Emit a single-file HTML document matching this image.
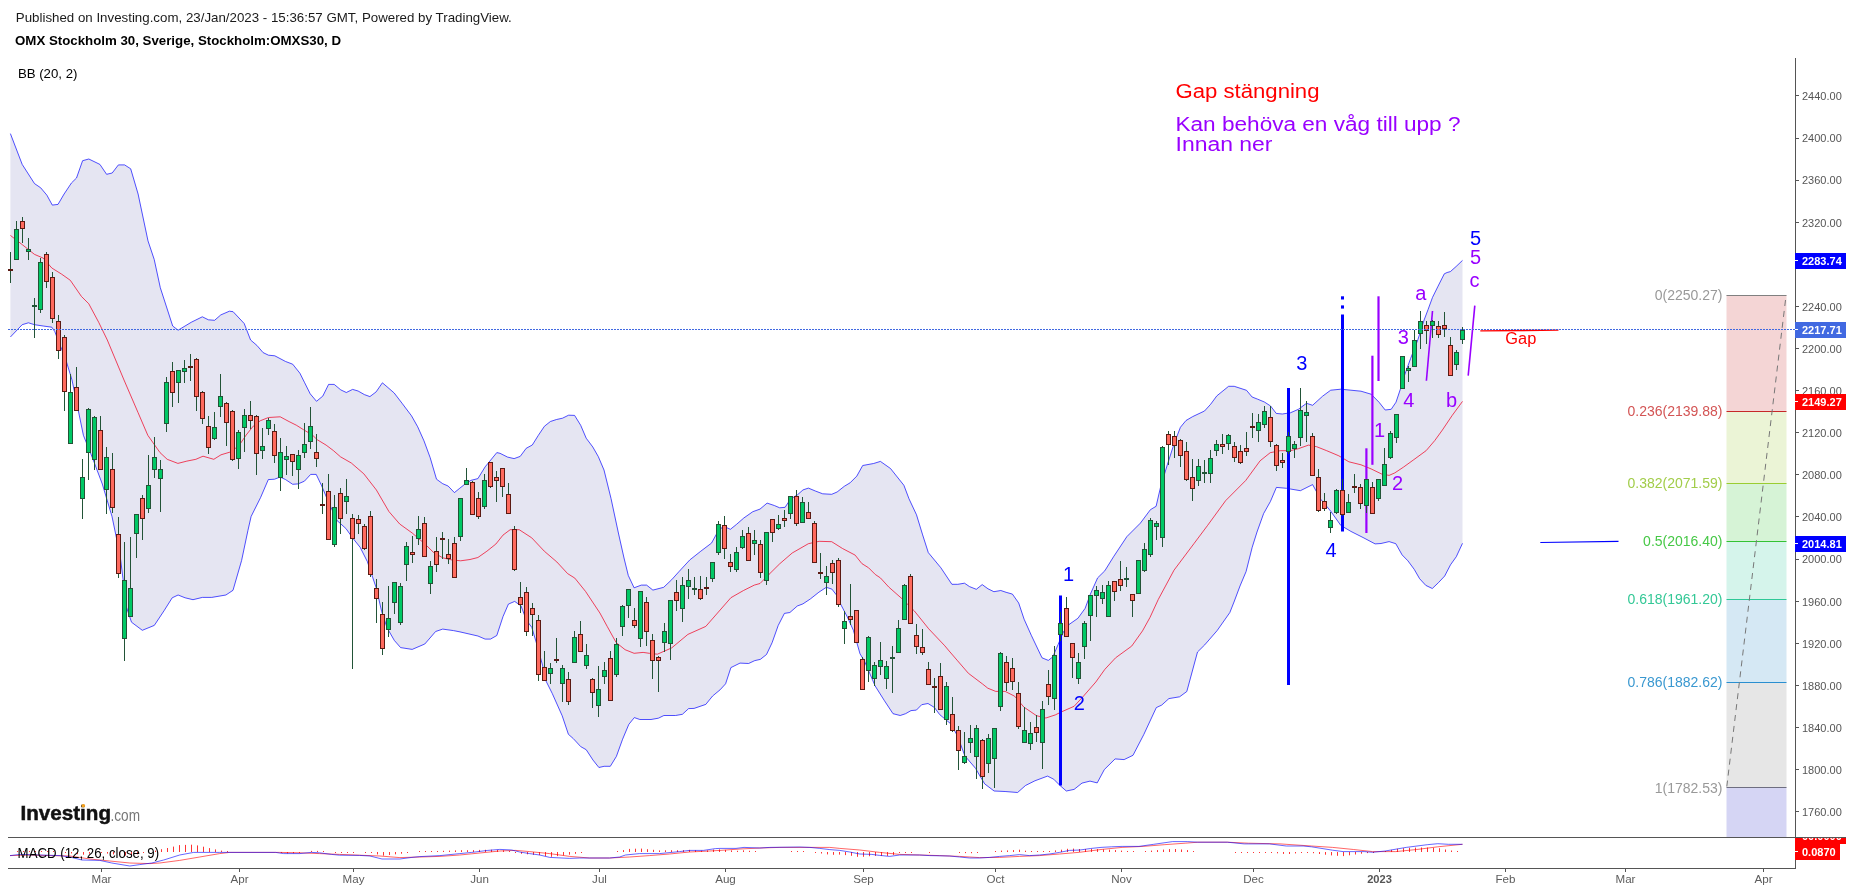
<!DOCTYPE html><html><head><meta charset="utf-8"><style>html,body{margin:0;padding:0;background:#fff;width:1853px;height:892px;overflow:hidden}svg{display:block;position:absolute;left:0;top:0;will-change:transform}text{font-family:"Liberation Sans",sans-serif}</style></head><body>
<svg width="1853" height="892" viewBox="0 0 1853 892">
<text x="15.8" y="22" font-size="13.6" fill="#1a1a1a" textLength="496" lengthAdjust="spacingAndGlyphs">Published on Investing.com, 23/Jan/2023 - 15:36:57 GMT, Powered by TradingView.</text>
<text x="15" y="44.5" font-size="13.6" font-weight="bold" fill="#000" textLength="326" lengthAdjust="spacingAndGlyphs">OMX Stockholm 30, Sverige, Stockholm:OMXS30, D</text>
<text x="17.9" y="77.8" font-size="13.6" fill="#000" textLength="59.5" lengthAdjust="spacingAndGlyphs">BB (20, 2)</text>
<rect x="1726.5" y="295.1" width="60.0" height="116.2" fill="#f4d5d5"/>
<rect x="1726.5" y="411.3" width="60.0" height="71.9" fill="#ebf4d6"/>
<rect x="1726.5" y="483.2" width="60.0" height="58.1" fill="#d6f3d6"/>
<rect x="1726.5" y="541.3" width="60.0" height="58.1" fill="#d5f4eb"/>
<rect x="1726.5" y="599.4" width="60.0" height="82.7" fill="#d5e8f4"/>
<rect x="1726.5" y="682.1" width="60.0" height="105.4" fill="#e6e6e6"/>
<rect x="1726.5" y="787.5" width="60.0" height="49.5" fill="#d5d5f4"/>
<line x1="1726.5" y1="295.5" x2="1786.5" y2="295.5" stroke="#808080" stroke-width="1"/>
<text x="1722.5" y="300.1" font-size="14" fill="#999999" text-anchor="end">0(2250.27)</text>
<line x1="1726.5" y1="411.5" x2="1786.5" y2="411.5" stroke="#c62828" stroke-width="1"/>
<text x="1722.5" y="416.3" font-size="14" fill="#d35454" text-anchor="end">0.236(2139.88)</text>
<line x1="1726.5" y1="483.5" x2="1786.5" y2="483.5" stroke="#9acd32" stroke-width="1"/>
<text x="1722.5" y="488.2" font-size="14" fill="#a2cd4a" text-anchor="end">0.382(2071.59)</text>
<line x1="1726.5" y1="541.5" x2="1786.5" y2="541.5" stroke="#34c234" stroke-width="1"/>
<text x="1722.5" y="546.3" font-size="14" fill="#46c846" text-anchor="end">0.5(2016.40)</text>
<line x1="1726.5" y1="599.5" x2="1786.5" y2="599.5" stroke="#2ec896" stroke-width="1"/>
<text x="1722.5" y="604.4" font-size="14" fill="#33c896" text-anchor="end">0.618(1961.20)</text>
<line x1="1726.5" y1="682.5" x2="1786.5" y2="682.5" stroke="#2a8fd0" stroke-width="1"/>
<text x="1722.5" y="687.1" font-size="14" fill="#3a98d0" text-anchor="end">0.786(1882.62)</text>
<line x1="1726.5" y1="787.5" x2="1786.5" y2="787.5" stroke="#6e6e80" stroke-width="1"/>
<text x="1722.5" y="792.5" font-size="14" fill="#999999" text-anchor="end">1(1782.53)</text>
<line x1="1726.8" y1="786.5" x2="1786" y2="296" stroke="#777" stroke-width="1" stroke-dasharray="6,5"/>
<polygon points="10.4,133.6 22.2,164.4 34.5,183.6 40.7,187.8 46.9,195.2 52.3,205.1 58.0,204.4 64.1,194.0 71.5,182.9 76.5,178.0 82.6,160.7 88.8,159.0 99.9,164.4 106.6,174.3 112.2,173.0 118.4,164.9 124.6,164.9 130.7,168.8 138.1,194.0 148.0,240.9 154.2,259.4 160.3,287.7 172.7,326.0 178.1,330.2 191.2,322.3 202.3,316.8 208.4,319.8 214.6,320.3 220.8,314.9 229.4,311.2 233.1,311.7 244.2,323.5 250.6,340.0 256.9,345.4 263.1,352.6 268.5,355.2 274.8,355.8 285.6,361.5 292.7,364.2 299.9,373.2 304.7,382.8 310.2,393.8 316.5,401.3 322.8,396.1 328.6,384.4 334.2,384.4 340.8,389.9 346.3,392.5 352.6,389.4 358.1,391.0 364.4,394.6 369.9,396.6 376.1,391.9 382.4,382.8 387.9,387.5 394.2,393.0 402.0,403.2 411.5,415.8 417.7,426.8 424.0,440.9 430.2,457.7 436.5,479.2 442.7,483.7 448.1,486.0 454.4,492.6 459.8,488.2 464.3,484.6 470.8,480.4 477.9,478.6 485.1,466.9 496.8,452.6 500.0,453.3 507.6,457.1 514.1,458.6 520.2,456.4 526.2,448.3 532.3,445.0 538.3,435.4 544.4,426.3 550.4,421.5 556.5,419.5 562.5,418.2 568.6,415.2 574.6,415.4 580.7,425.3 586.2,438.2 592.8,447.0 598.3,456.6 604.0,470.0 611.0,498.4 618.4,533.0 624.0,558.0 628.3,575.5 634.1,587.8 641.3,585.1 646.6,585.1 652.9,590.1 663.7,587.3 671.7,579.7 678.9,571.7 689.7,560.0 700.8,551.2 711.5,543.1 716.9,533.3 723.2,526.1 730.4,529.3 736.6,524.3 743.8,518.0 752.8,511.7 760.0,509.1 767.1,503.1 774.3,505.5 779.7,507.8 785.1,507.3 790.4,499.2 797.6,494.7 803.0,489.9 808.4,488.1 815.6,491.1 822.7,493.8 831.7,494.3 837.1,492.0 844.3,486.3 850.1,482.8 856.8,476.1 862.7,465.5 873.6,463.5 880.4,461.4 890.5,468.5 903.9,485.3 909.0,498.8 916.5,514.8 922.4,534.1 928.3,552.6 940.9,567.8 951.9,584.3 957.8,584.3 964.5,583.2 969.5,586.6 976.3,589.3 982.2,584.6 988.0,588.8 993.9,591.7 1000.8,590.5 1006.1,592.3 1012.4,594.1 1018.7,603.0 1024.1,619.2 1031.3,635.3 1042.0,657.8 1048.3,660.4 1052.8,656.9 1058.2,644.3 1063.5,631.7 1068.9,624.6 1077.9,618.3 1085.1,608.4 1090.4,594.1 1097.6,577.9 1104.8,570.8 1113.5,556.8 1126.9,536.6 1140.4,523.1 1150.4,509.7 1156.1,506.3 1160.5,487.3 1167.3,464.8 1173.6,445.2 1177.0,436.2 1180.4,427.3 1186.0,420.5 1192.7,416.6 1204.5,411.0 1210.6,404.3 1216.8,395.9 1228.6,386.3 1234.2,386.3 1246.5,390.3 1252.1,397.0 1257.7,399.2 1264.4,402.0 1270.6,406.0 1276.2,413.4 1282.3,414.0 1290.4,412.8 1298.4,409.3 1306.5,403.3 1312.6,405.3 1322.6,396.2 1330.7,390.2 1340.8,389.2 1350.9,390.2 1361.0,391.2 1371.1,394.2 1379.1,402.3 1385.2,410.0 1391.2,409.3 1396.0,402.2 1400.4,389.1 1404.8,374.5 1410.6,358.5 1417.9,339.6 1424.1,320.0 1428.0,309.7 1432.5,297.4 1438.1,286.1 1444.3,273.8 1447.1,272.5 1450.4,271.6 1456.1,266.5 1462.5,260.4 1462.5,543.3 1456.3,556.7 1450.5,564.8 1444.7,576.0 1438.4,582.7 1432.3,588.5 1425.8,585.4 1419.6,578.7 1414.2,569.3 1407.9,560.8 1402.1,554.9 1395.8,543.7 1389.1,541.6 1381.0,543.5 1375.1,543.9 1363.0,537.5 1350.9,531.4 1340.8,525.4 1330.7,511.2 1320.6,499.1 1312.6,484.6 1300.4,490.7 1290.4,489.0 1286.5,488.3 1276.4,487.4 1270.4,501.5 1263.6,513.6 1257.0,532.0 1252.2,547.3 1246.1,571.5 1240.0,586.0 1234.0,602.0 1229.8,612.6 1217.2,630.5 1204.7,644.9 1197.5,652.0 1186.8,691.5 1179.6,696.8 1168.9,698.6 1161.7,705.1 1156.3,707.6 1143.8,734.5 1133.0,755.3 1124.1,759.6 1115.1,758.9 1104.3,769.6 1097.2,782.9 1090.0,781.1 1082.0,783.1 1074.1,789.4 1066.3,791.0 1060.0,785.5 1053.7,779.2 1047.5,776.1 1034.9,780.8 1025.5,785.5 1017.6,792.5 1005.1,791.5 994.1,791.0 984.7,783.9 980.0,776.1 975.6,768.4 964.8,755.8 957.6,736.1 950.4,723.5 945.1,719.1 939.7,714.6 934.3,707.4 928.0,703.5 921.7,704.7 916.4,710.1 911.0,710.6 905.6,713.7 900.2,715.5 893.0,713.7 884.1,700.2 875.1,685.9 869.7,673.3 864.3,660.8 860.0,653.8 853.4,630.4 847.3,616.9 841.1,605.1 836.2,594.7 831.9,589.1 826.3,587.3 818.9,592.2 810.3,599.0 802.9,603.9 797.3,606.0 789.9,612.5 784.4,613.4 778.2,625.5 772.1,642.7 766.5,654.5 760.3,659.4 754.8,660.6 748.6,663.5 740.0,663.1 730.9,667.6 725.6,683.8 720.0,689.9 712.6,696.0 705.8,704.4 694.1,708.4 688.6,708.6 682.4,714.3 675.6,715.5 663.9,715.5 658.4,718.2 651.0,719.5 639.9,719.5 634.3,717.6 628.8,724.4 622.6,739.2 616.4,756.4 610.3,766.3 604.1,766.3 598.9,767.5 593.0,760.1 586.2,749.7 580.7,746.6 573.3,738.6 568.4,734.3 562.2,715.8 552.3,693.6 545.5,680.0 542.5,665.1 537.1,645.3 531.8,627.4 526.4,620.2 521.0,605.9 514.7,601.4 508.4,604.1 503.0,616.6 496.8,635.5 490.5,639.1 485.1,639.1 477.9,636.0 460.0,631.9 453.5,630.6 442.7,629.1 435.6,631.5 424.8,644.0 412.2,649.4 400.6,647.6 394.3,640.4 387.1,627.9 381.7,611.7 376.4,588.4 372.8,577.8 367.4,561.7 360.2,547.4 353.0,538.4 345.9,528.5 336.9,520.4 327.9,500.7 321.7,485.9 316.2,474.4 310.7,474.4 304.4,481.2 298.1,483.9 292.7,484.3 285.6,479.6 280.1,477.0 274.6,479.2 268.3,479.6 260.5,497.7 251.1,516.5 247.9,530.6 241.6,560.5 233.0,590.3 225.9,595.0 211.8,597.4 202.4,597.4 193.0,599.7 185.1,597.8 178.1,595.0 172.2,597.8 164.0,610.8 154.3,625.4 142.3,630.3 131.5,622.2 126.6,607.6 120.1,555.6 112.0,516.5 102.3,484.0 92.5,458.0 83.4,435.3 72.0,380.0 65.8,359.7 58.0,340.0 54.8,331.6 51.8,327.2 43.2,326.0 34.5,324.7 28.4,322.8 22.2,324.7 10.4,337.0" fill="#e5e5f2"/>
<polyline points="10.4,235.4 22.2,244.6 34.5,254.4 43.2,258.1 51.8,268.0 61.7,274.2 70.3,280.3 81.4,296.4 88.8,303.8 98.7,322.3 107.3,340.0 124.0,380.0 138.0,412.5 147.8,435.3 160.0,452.6 167.2,459.3 177.9,463.4 186.9,461.1 195.9,459.3 203.0,456.2 213.8,459.3 221.0,454.8 230.0,452.1 238.9,445.8 246.1,435.1 253.3,426.1 260.4,420.7 268.5,417.5 280.2,416.8 289.1,421.6 296.3,425.2 303.5,429.7 312.5,435.1 317.2,439.7 326.1,445.1 333.3,450.5 340.5,456.8 351.3,463.0 363.8,473.8 376.4,490.0 388.9,511.5 399.7,524.0 412.2,533.0 424.8,543.8 433.8,552.7 442.7,557.8 451.7,559.9 460.7,560.8 470.0,559.5 477.9,557.5 486.9,551.2 495.9,544.0 503.0,535.1 510.2,529.7 519.2,529.7 531.7,537.8 544.3,551.2 556.9,562.0 567.6,573.6 574.8,578.1 585.6,591.5 599.9,613.0 607.2,626.4 616.1,642.5 625.1,649.7 634.1,653.3 643.1,652.4 649.3,653.3 657.4,654.2 671.7,647.9 687.9,634.4 705.8,626.4 718.4,612.0 730.9,597.7 743.5,590.5 754.3,585.1 760.0,583.5 768.9,574.5 779.7,563.8 792.2,553.0 808.4,543.7 819.1,541.3 831.7,541.7 842.5,548.5 855.1,555.1 861.9,563.6 868.6,567.8 875.3,574.5 880.4,577.9 888.8,587.1 902.2,598.9 914.3,610.9 928.7,628.8 944.8,645.8 948.3,650.0 957.6,660.8 968.4,673.3 982.7,684.1 987.8,688.2 995.7,691.4 1005.1,691.4 1014.5,696.1 1023.9,707.1 1036.5,715.7 1045.9,718.0 1055.3,714.9 1061.6,711.8 1074.1,706.3 1083.5,696.1 1095.8,682.0 1104.8,669.4 1115.6,657.8 1131.7,646.1 1142.5,630.9 1150.0,617.4 1158.3,599.4 1174.0,570.2 1194.2,543.3 1207.6,525.4 1225.6,500.7 1245.7,480.5 1260.1,460.8 1270.2,452.7 1280.3,450.7 1290.4,450.7 1298.4,448.7 1308.5,445.1 1316.6,446.7 1326.7,450.7 1338.8,455.8 1348.9,461.8 1361.0,464.8 1371.1,468.9 1381.4,473.9 1389.1,475.4 1394.8,472.9 1403.4,467.2 1413.9,459.6 1426.2,450.6 1434.8,440.5 1442.4,430.0 1452.0,415.7 1462.5,401.4" fill="none" stroke="#f00020" stroke-opacity="0.72" stroke-width="1"/>
<polyline points="10.4,133.6 22.2,164.4 34.5,183.6 40.7,187.8 46.9,195.2 52.3,205.1 58.0,204.4 64.1,194.0 71.5,182.9 76.5,178.0 82.6,160.7 88.8,159.0 99.9,164.4 106.6,174.3 112.2,173.0 118.4,164.9 124.6,164.9 130.7,168.8 138.1,194.0 148.0,240.9 154.2,259.4 160.3,287.7 172.7,326.0 178.1,330.2 191.2,322.3 202.3,316.8 208.4,319.8 214.6,320.3 220.8,314.9 229.4,311.2 233.1,311.7 244.2,323.5 250.6,340.0 256.9,345.4 263.1,352.6 268.5,355.2 274.8,355.8 285.6,361.5 292.7,364.2 299.9,373.2 304.7,382.8 310.2,393.8 316.5,401.3 322.8,396.1 328.6,384.4 334.2,384.4 340.8,389.9 346.3,392.5 352.6,389.4 358.1,391.0 364.4,394.6 369.9,396.6 376.1,391.9 382.4,382.8 387.9,387.5 394.2,393.0 402.0,403.2 411.5,415.8 417.7,426.8 424.0,440.9 430.2,457.7 436.5,479.2 442.7,483.7 448.1,486.0 454.4,492.6 459.8,488.2 464.3,484.6 470.8,480.4 477.9,478.6 485.1,466.9 496.8,452.6 500.0,453.3 507.6,457.1 514.1,458.6 520.2,456.4 526.2,448.3 532.3,445.0 538.3,435.4 544.4,426.3 550.4,421.5 556.5,419.5 562.5,418.2 568.6,415.2 574.6,415.4 580.7,425.3 586.2,438.2 592.8,447.0 598.3,456.6 604.0,470.0 611.0,498.4 618.4,533.0 624.0,558.0 628.3,575.5 634.1,587.8 641.3,585.1 646.6,585.1 652.9,590.1 663.7,587.3 671.7,579.7 678.9,571.7 689.7,560.0 700.8,551.2 711.5,543.1 716.9,533.3 723.2,526.1 730.4,529.3 736.6,524.3 743.8,518.0 752.8,511.7 760.0,509.1 767.1,503.1 774.3,505.5 779.7,507.8 785.1,507.3 790.4,499.2 797.6,494.7 803.0,489.9 808.4,488.1 815.6,491.1 822.7,493.8 831.7,494.3 837.1,492.0 844.3,486.3 850.1,482.8 856.8,476.1 862.7,465.5 873.6,463.5 880.4,461.4 890.5,468.5 903.9,485.3 909.0,498.8 916.5,514.8 922.4,534.1 928.3,552.6 940.9,567.8 951.9,584.3 957.8,584.3 964.5,583.2 969.5,586.6 976.3,589.3 982.2,584.6 988.0,588.8 993.9,591.7 1000.8,590.5 1006.1,592.3 1012.4,594.1 1018.7,603.0 1024.1,619.2 1031.3,635.3 1042.0,657.8 1048.3,660.4 1052.8,656.9 1058.2,644.3 1063.5,631.7 1068.9,624.6 1077.9,618.3 1085.1,608.4 1090.4,594.1 1097.6,577.9 1104.8,570.8 1113.5,556.8 1126.9,536.6 1140.4,523.1 1150.4,509.7 1156.1,506.3 1160.5,487.3 1167.3,464.8 1173.6,445.2 1177.0,436.2 1180.4,427.3 1186.0,420.5 1192.7,416.6 1204.5,411.0 1210.6,404.3 1216.8,395.9 1228.6,386.3 1234.2,386.3 1246.5,390.3 1252.1,397.0 1257.7,399.2 1264.4,402.0 1270.6,406.0 1276.2,413.4 1282.3,414.0 1290.4,412.8 1298.4,409.3 1306.5,403.3 1312.6,405.3 1322.6,396.2 1330.7,390.2 1340.8,389.2 1350.9,390.2 1361.0,391.2 1371.1,394.2 1379.1,402.3 1385.2,410.0 1391.2,409.3 1396.0,402.2 1400.4,389.1 1404.8,374.5 1410.6,358.5 1417.9,339.6 1424.1,320.0 1428.0,309.7 1432.5,297.4 1438.1,286.1 1444.3,273.8 1447.1,272.5 1450.4,271.6 1456.1,266.5 1462.5,260.4" fill="none" stroke="#0000ff" stroke-opacity="0.68" stroke-width="1"/>
<polyline points="10.4,337.0 22.2,324.7 28.4,322.8 34.5,324.7 43.2,326.0 51.8,327.2 54.8,331.6 58.0,340.0 65.8,359.7 72.0,380.0 83.4,435.3 92.5,458.0 102.3,484.0 112.0,516.5 120.1,555.6 126.6,607.6 131.5,622.2 142.3,630.3 154.3,625.4 164.0,610.8 172.2,597.8 178.1,595.0 185.1,597.8 193.0,599.7 202.4,597.4 211.8,597.4 225.9,595.0 233.0,590.3 241.6,560.5 247.9,530.6 251.1,516.5 260.5,497.7 268.3,479.6 274.6,479.2 280.1,477.0 285.6,479.6 292.7,484.3 298.1,483.9 304.4,481.2 310.7,474.4 316.2,474.4 321.7,485.9 327.9,500.7 336.9,520.4 345.9,528.5 353.0,538.4 360.2,547.4 367.4,561.7 372.8,577.8 376.4,588.4 381.7,611.7 387.1,627.9 394.3,640.4 400.6,647.6 412.2,649.4 424.8,644.0 435.6,631.5 442.7,629.1 453.5,630.6 460.0,631.9 477.9,636.0 485.1,639.1 490.5,639.1 496.8,635.5 503.0,616.6 508.4,604.1 514.7,601.4 521.0,605.9 526.4,620.2 531.8,627.4 537.1,645.3 542.5,665.1 545.5,680.0 552.3,693.6 562.2,715.8 568.4,734.3 573.3,738.6 580.7,746.6 586.2,749.7 593.0,760.1 598.9,767.5 604.1,766.3 610.3,766.3 616.4,756.4 622.6,739.2 628.8,724.4 634.3,717.6 639.9,719.5 651.0,719.5 658.4,718.2 663.9,715.5 675.6,715.5 682.4,714.3 688.6,708.6 694.1,708.4 705.8,704.4 712.6,696.0 720.0,689.9 725.6,683.8 730.9,667.6 740.0,663.1 748.6,663.5 754.8,660.6 760.3,659.4 766.5,654.5 772.1,642.7 778.2,625.5 784.4,613.4 789.9,612.5 797.3,606.0 802.9,603.9 810.3,599.0 818.9,592.2 826.3,587.3 831.9,589.1 836.2,594.7 841.1,605.1 847.3,616.9 853.4,630.4 860.0,653.8 864.3,660.8 869.7,673.3 875.1,685.9 884.1,700.2 893.0,713.7 900.2,715.5 905.6,713.7 911.0,710.6 916.4,710.1 921.7,704.7 928.0,703.5 934.3,707.4 939.7,714.6 945.1,719.1 950.4,723.5 957.6,736.1 964.8,755.8 975.6,768.4 980.0,776.1 984.7,783.9 994.1,791.0 1005.1,791.5 1017.6,792.5 1025.5,785.5 1034.9,780.8 1047.5,776.1 1053.7,779.2 1060.0,785.5 1066.3,791.0 1074.1,789.4 1082.0,783.1 1090.0,781.1 1097.2,782.9 1104.3,769.6 1115.1,758.9 1124.1,759.6 1133.0,755.3 1143.8,734.5 1156.3,707.6 1161.7,705.1 1168.9,698.6 1179.6,696.8 1186.8,691.5 1197.5,652.0 1204.7,644.9 1217.2,630.5 1229.8,612.6 1234.0,602.0 1240.0,586.0 1246.1,571.5 1252.2,547.3 1257.0,532.0 1263.6,513.6 1270.4,501.5 1276.4,487.4 1286.5,488.3 1290.4,489.0 1300.4,490.7 1312.6,484.6 1320.6,499.1 1330.7,511.2 1340.8,525.4 1350.9,531.4 1363.0,537.5 1375.1,543.9 1381.0,543.5 1389.1,541.6 1395.8,543.7 1402.1,554.9 1407.9,560.8 1414.2,569.3 1419.6,578.7 1425.8,585.4 1432.3,588.5 1438.4,582.7 1444.7,576.0 1450.5,564.8 1456.3,556.7 1462.5,543.3" fill="none" stroke="#0000ff" stroke-opacity="0.68" stroke-width="1"/>
<rect x="1059" y="595.5" width="3" height="190" fill="#0000ff"/>
<rect x="1287" y="388" width="3" height="297" fill="#0000ff"/>
<rect x="1341" y="296.3" width="3" height="3.2" fill="#0000ff"/>
<rect x="1341" y="305.4" width="3" height="3.2" fill="#0000ff"/>
<rect x="1341" y="314.5" width="3" height="217" fill="#0000ff"/>
<line x1="1366.4" y1="448.3" x2="1366.4" y2="533" stroke="#9900ff" stroke-width="2.2"/>
<line x1="1372.4" y1="355.7" x2="1372.4" y2="464.8" stroke="#9900ff" stroke-width="2.2"/>
<line x1="1378.5" y1="296.3" x2="1378.5" y2="381" stroke="#9900ff" stroke-width="2.2"/>
<line x1="1432.5" y1="311" x2="1426.4" y2="380.7" stroke="#9900ff" stroke-width="1.6"/>
<line x1="1474.8" y1="305.7" x2="1468.2" y2="375.7" stroke="#9900ff" stroke-width="1.6"/>
<line x1="1480.3" y1="330.9" x2="1558.5" y2="330.2" stroke="#ff0000" stroke-width="1.3"/>
<line x1="1540.3" y1="542.5" x2="1618.5" y2="541.4" stroke="#0000ff" stroke-width="1.2"/>
<rect x="10" y="252" width="1" height="31" fill="#225437"/>
<rect x="8" y="269" width="5" height="2" fill="#5b1a13"/>
<rect x="16" y="221" width="1" height="39" fill="#225437"/>
<rect x="14" y="229" width="5" height="31" fill="#225437"/>
<rect x="15" y="230" width="3" height="29" fill="#00c865"/>
<rect x="22" y="217" width="1" height="26" fill="#225437"/>
<rect x="20" y="221" width="5" height="8" fill="#5b1a13"/>
<rect x="21" y="222" width="3" height="6" fill="#ff6a5e"/>
<rect x="28" y="238" width="1" height="22" fill="#225437"/>
<rect x="26" y="249" width="5" height="3" fill="#225437"/>
<rect x="27" y="250" width="3" height="1" fill="#00c865"/>
<rect x="34" y="298" width="1" height="40" fill="#225437"/>
<rect x="32" y="305" width="5" height="2" fill="#225437"/>
<rect x="40" y="258" width="1" height="55" fill="#225437"/>
<rect x="38" y="262" width="5" height="48" fill="#225437"/>
<rect x="39" y="263" width="3" height="46" fill="#00c865"/>
<rect x="46" y="252" width="1" height="36" fill="#225437"/>
<rect x="44" y="254" width="5" height="28" fill="#5b1a13"/>
<rect x="45" y="255" width="3" height="26" fill="#ff6a5e"/>
<rect x="52" y="272" width="1" height="51" fill="#225437"/>
<rect x="50" y="277" width="5" height="42" fill="#5b1a13"/>
<rect x="51" y="278" width="3" height="40" fill="#ff6a5e"/>
<rect x="58" y="315" width="1" height="44" fill="#225437"/>
<rect x="56" y="321" width="5" height="30" fill="#5b1a13"/>
<rect x="57" y="322" width="3" height="28" fill="#ff6a5e"/>
<rect x="64" y="335" width="1" height="76" fill="#225437"/>
<rect x="62" y="337" width="5" height="55" fill="#5b1a13"/>
<rect x="63" y="338" width="3" height="53" fill="#ff6a5e"/>
<rect x="70" y="374" width="1" height="70" fill="#225437"/>
<rect x="68" y="392" width="5" height="52" fill="#225437"/>
<rect x="69" y="393" width="3" height="50" fill="#00c865"/>
<rect x="76" y="367" width="1" height="44" fill="#225437"/>
<rect x="74" y="387" width="5" height="24" fill="#5b1a13"/>
<rect x="75" y="388" width="3" height="22" fill="#ff6a5e"/>
<rect x="82" y="459" width="1" height="60" fill="#225437"/>
<rect x="80" y="477" width="5" height="22" fill="#225437"/>
<rect x="81" y="478" width="3" height="20" fill="#00c865"/>
<rect x="88" y="408" width="1" height="72" fill="#225437"/>
<rect x="86" y="409" width="5" height="44" fill="#225437"/>
<rect x="87" y="410" width="3" height="42" fill="#00c865"/>
<rect x="94" y="416" width="1" height="54" fill="#225437"/>
<rect x="92" y="417" width="5" height="43" fill="#225437"/>
<rect x="93" y="418" width="3" height="41" fill="#00c865"/>
<rect x="100" y="416" width="1" height="54" fill="#225437"/>
<rect x="98" y="430" width="5" height="40" fill="#5b1a13"/>
<rect x="99" y="431" width="3" height="38" fill="#ff6a5e"/>
<rect x="106" y="447" width="1" height="67" fill="#225437"/>
<rect x="104" y="457" width="5" height="33" fill="#225437"/>
<rect x="105" y="458" width="3" height="31" fill="#00c865"/>
<rect x="112" y="453" width="1" height="60" fill="#225437"/>
<rect x="110" y="469" width="5" height="39" fill="#5b1a13"/>
<rect x="111" y="470" width="3" height="37" fill="#ff6a5e"/>
<rect x="118" y="517" width="1" height="61" fill="#225437"/>
<rect x="116" y="534" width="5" height="40" fill="#5b1a13"/>
<rect x="117" y="535" width="3" height="38" fill="#ff6a5e"/>
<rect x="124" y="542" width="1" height="119" fill="#225437"/>
<rect x="122" y="580" width="5" height="59" fill="#225437"/>
<rect x="123" y="581" width="3" height="57" fill="#00c865"/>
<rect x="130" y="537" width="1" height="80" fill="#225437"/>
<rect x="128" y="588" width="5" height="29" fill="#225437"/>
<rect x="129" y="589" width="3" height="27" fill="#00c865"/>
<rect x="136" y="514" width="1" height="44" fill="#225437"/>
<rect x="134" y="514" width="5" height="20" fill="#225437"/>
<rect x="135" y="515" width="3" height="18" fill="#00c865"/>
<rect x="142" y="495" width="1" height="45" fill="#225437"/>
<rect x="140" y="498" width="5" height="21" fill="#5b1a13"/>
<rect x="141" y="499" width="3" height="19" fill="#ff6a5e"/>
<rect x="148" y="455" width="1" height="58" fill="#225437"/>
<rect x="146" y="485" width="5" height="24" fill="#225437"/>
<rect x="147" y="486" width="3" height="22" fill="#00c865"/>
<rect x="154" y="437" width="1" height="41" fill="#225437"/>
<rect x="152" y="457" width="5" height="13" fill="#225437"/>
<rect x="153" y="458" width="3" height="11" fill="#00c865"/>
<rect x="160" y="460" width="1" height="52" fill="#225437"/>
<rect x="158" y="469" width="5" height="10" fill="#225437"/>
<rect x="159" y="470" width="3" height="8" fill="#00c865"/>
<rect x="166" y="377" width="1" height="55" fill="#225437"/>
<rect x="164" y="382" width="5" height="42" fill="#225437"/>
<rect x="165" y="383" width="3" height="40" fill="#00c865"/>
<rect x="172" y="362" width="1" height="45" fill="#225437"/>
<rect x="170" y="371" width="5" height="22" fill="#5b1a13"/>
<rect x="171" y="372" width="3" height="20" fill="#ff6a5e"/>
<rect x="178" y="370" width="1" height="33" fill="#225437"/>
<rect x="176" y="370" width="5" height="13" fill="#225437"/>
<rect x="177" y="371" width="3" height="11" fill="#00c865"/>
<rect x="184" y="360" width="1" height="23" fill="#225437"/>
<rect x="182" y="368" width="5" height="4" fill="#225437"/>
<rect x="183" y="369" width="3" height="2" fill="#00c865"/>
<rect x="190" y="354" width="1" height="27" fill="#225437"/>
<rect x="188" y="366" width="5" height="2" fill="#5b1a13"/>
<rect x="196" y="358" width="1" height="53" fill="#225437"/>
<rect x="194" y="359" width="5" height="38" fill="#5b1a13"/>
<rect x="195" y="360" width="3" height="36" fill="#ff6a5e"/>
<rect x="202" y="391" width="1" height="33" fill="#225437"/>
<rect x="200" y="392" width="5" height="27" fill="#5b1a13"/>
<rect x="201" y="393" width="3" height="25" fill="#ff6a5e"/>
<rect x="208" y="416" width="1" height="38" fill="#225437"/>
<rect x="206" y="426" width="5" height="22" fill="#5b1a13"/>
<rect x="207" y="427" width="3" height="20" fill="#ff6a5e"/>
<rect x="214" y="412" width="1" height="28" fill="#225437"/>
<rect x="212" y="427" width="5" height="12" fill="#225437"/>
<rect x="213" y="428" width="3" height="10" fill="#00c865"/>
<rect x="220" y="374" width="1" height="43" fill="#225437"/>
<rect x="218" y="396" width="5" height="11" fill="#225437"/>
<rect x="219" y="397" width="3" height="9" fill="#00c865"/>
<rect x="226" y="402" width="1" height="44" fill="#225437"/>
<rect x="224" y="403" width="5" height="20" fill="#5b1a13"/>
<rect x="225" y="404" width="3" height="18" fill="#ff6a5e"/>
<rect x="232" y="410" width="1" height="51" fill="#225437"/>
<rect x="230" y="411" width="5" height="49" fill="#5b1a13"/>
<rect x="231" y="412" width="3" height="47" fill="#ff6a5e"/>
<rect x="238" y="430" width="1" height="39" fill="#225437"/>
<rect x="236" y="432" width="5" height="27" fill="#225437"/>
<rect x="237" y="433" width="3" height="25" fill="#00c865"/>
<rect x="244" y="409" width="1" height="43" fill="#225437"/>
<rect x="242" y="415" width="5" height="13" fill="#225437"/>
<rect x="243" y="416" width="3" height="11" fill="#00c865"/>
<rect x="250" y="401" width="1" height="28" fill="#225437"/>
<rect x="248" y="415" width="5" height="6" fill="#5b1a13"/>
<rect x="249" y="416" width="3" height="4" fill="#ff6a5e"/>
<rect x="256" y="415" width="1" height="60" fill="#225437"/>
<rect x="254" y="416" width="5" height="38" fill="#5b1a13"/>
<rect x="255" y="417" width="3" height="36" fill="#ff6a5e"/>
<rect x="262" y="428" width="1" height="31" fill="#225437"/>
<rect x="260" y="446" width="5" height="5" fill="#225437"/>
<rect x="261" y="447" width="3" height="3" fill="#00c865"/>
<rect x="268" y="418" width="1" height="17" fill="#225437"/>
<rect x="266" y="420" width="5" height="9" fill="#225437"/>
<rect x="267" y="421" width="3" height="7" fill="#00c865"/>
<rect x="274" y="424" width="1" height="39" fill="#225437"/>
<rect x="272" y="431" width="5" height="25" fill="#5b1a13"/>
<rect x="273" y="432" width="3" height="23" fill="#ff6a5e"/>
<rect x="280" y="438" width="1" height="53" fill="#225437"/>
<rect x="278" y="452" width="5" height="26" fill="#225437"/>
<rect x="279" y="453" width="3" height="24" fill="#00c865"/>
<rect x="286" y="446" width="1" height="29" fill="#225437"/>
<rect x="284" y="456" width="5" height="4" fill="#225437"/>
<rect x="285" y="457" width="3" height="2" fill="#00c865"/>
<rect x="292" y="454" width="1" height="22" fill="#225437"/>
<rect x="290" y="454" width="5" height="8" fill="#5b1a13"/>
<rect x="291" y="455" width="3" height="6" fill="#ff6a5e"/>
<rect x="298" y="450" width="1" height="39" fill="#225437"/>
<rect x="296" y="455" width="5" height="15" fill="#225437"/>
<rect x="297" y="456" width="3" height="13" fill="#00c865"/>
<rect x="304" y="423" width="1" height="35" fill="#225437"/>
<rect x="302" y="444" width="5" height="9" fill="#225437"/>
<rect x="303" y="445" width="3" height="7" fill="#00c865"/>
<rect x="310" y="407" width="1" height="42" fill="#225437"/>
<rect x="308" y="426" width="5" height="16" fill="#225437"/>
<rect x="309" y="427" width="3" height="14" fill="#00c865"/>
<rect x="316" y="434" width="1" height="33" fill="#225437"/>
<rect x="314" y="452" width="5" height="7" fill="#5b1a13"/>
<rect x="315" y="453" width="3" height="5" fill="#ff6a5e"/>
<rect x="322" y="483" width="1" height="31" fill="#225437"/>
<rect x="320" y="504" width="5" height="2" fill="#5b1a13"/>
<rect x="328" y="474" width="1" height="66" fill="#225437"/>
<rect x="326" y="491" width="5" height="49" fill="#5b1a13"/>
<rect x="327" y="492" width="3" height="47" fill="#ff6a5e"/>
<rect x="334" y="495" width="1" height="52" fill="#225437"/>
<rect x="332" y="507" width="5" height="38" fill="#225437"/>
<rect x="333" y="508" width="3" height="36" fill="#00c865"/>
<rect x="340" y="488" width="1" height="46" fill="#225437"/>
<rect x="338" y="493" width="5" height="26" fill="#5b1a13"/>
<rect x="339" y="494" width="3" height="24" fill="#ff6a5e"/>
<rect x="346" y="479" width="1" height="35" fill="#225437"/>
<rect x="344" y="496" width="5" height="6" fill="#225437"/>
<rect x="345" y="497" width="3" height="4" fill="#00c865"/>
<rect x="352" y="514" width="1" height="155" fill="#225437"/>
<rect x="350" y="518" width="5" height="21" fill="#5b1a13"/>
<rect x="351" y="519" width="3" height="19" fill="#ff6a5e"/>
<rect x="358" y="515" width="1" height="19" fill="#225437"/>
<rect x="356" y="519" width="5" height="5" fill="#5b1a13"/>
<rect x="357" y="520" width="3" height="3" fill="#ff6a5e"/>
<rect x="364" y="524" width="1" height="26" fill="#225437"/>
<rect x="362" y="526" width="5" height="23" fill="#5b1a13"/>
<rect x="363" y="527" width="3" height="21" fill="#ff6a5e"/>
<rect x="370" y="511" width="1" height="66" fill="#225437"/>
<rect x="368" y="516" width="5" height="59" fill="#5b1a13"/>
<rect x="369" y="517" width="3" height="57" fill="#ff6a5e"/>
<rect x="376" y="579" width="1" height="44" fill="#225437"/>
<rect x="374" y="588" width="5" height="11" fill="#5b1a13"/>
<rect x="375" y="589" width="3" height="9" fill="#ff6a5e"/>
<rect x="382" y="602" width="1" height="53" fill="#225437"/>
<rect x="380" y="614" width="5" height="35" fill="#5b1a13"/>
<rect x="381" y="615" width="3" height="33" fill="#ff6a5e"/>
<rect x="388" y="586" width="1" height="51" fill="#225437"/>
<rect x="386" y="618" width="5" height="12" fill="#225437"/>
<rect x="387" y="619" width="3" height="10" fill="#00c865"/>
<rect x="394" y="582" width="1" height="32" fill="#225437"/>
<rect x="392" y="582" width="5" height="21" fill="#225437"/>
<rect x="393" y="583" width="3" height="19" fill="#00c865"/>
<rect x="400" y="583" width="1" height="42" fill="#225437"/>
<rect x="398" y="586" width="5" height="37" fill="#225437"/>
<rect x="399" y="587" width="3" height="35" fill="#00c865"/>
<rect x="406" y="542" width="1" height="39" fill="#225437"/>
<rect x="404" y="546" width="5" height="19" fill="#225437"/>
<rect x="405" y="547" width="3" height="17" fill="#00c865"/>
<rect x="412" y="536" width="1" height="27" fill="#225437"/>
<rect x="410" y="552" width="5" height="3" fill="#5b1a13"/>
<rect x="411" y="553" width="3" height="1" fill="#ff6a5e"/>
<rect x="418" y="516" width="1" height="29" fill="#225437"/>
<rect x="416" y="529" width="5" height="10" fill="#225437"/>
<rect x="417" y="530" width="3" height="8" fill="#00c865"/>
<rect x="424" y="517" width="1" height="40" fill="#225437"/>
<rect x="422" y="523" width="5" height="34" fill="#5b1a13"/>
<rect x="423" y="524" width="3" height="32" fill="#ff6a5e"/>
<rect x="430" y="561" width="1" height="33" fill="#225437"/>
<rect x="428" y="566" width="5" height="18" fill="#225437"/>
<rect x="429" y="567" width="3" height="16" fill="#00c865"/>
<rect x="436" y="537" width="1" height="35" fill="#225437"/>
<rect x="434" y="551" width="5" height="14" fill="#5b1a13"/>
<rect x="435" y="552" width="3" height="12" fill="#ff6a5e"/>
<rect x="442" y="532" width="1" height="27" fill="#225437"/>
<rect x="440" y="538" width="5" height="2" fill="#5b1a13"/>
<rect x="448" y="539" width="1" height="25" fill="#225437"/>
<rect x="446" y="554" width="5" height="5" fill="#5b1a13"/>
<rect x="447" y="555" width="3" height="3" fill="#ff6a5e"/>
<rect x="454" y="537" width="1" height="41" fill="#225437"/>
<rect x="452" y="543" width="5" height="35" fill="#5b1a13"/>
<rect x="453" y="544" width="3" height="33" fill="#ff6a5e"/>
<rect x="460" y="498" width="1" height="43" fill="#225437"/>
<rect x="458" y="498" width="5" height="39" fill="#225437"/>
<rect x="459" y="499" width="3" height="37" fill="#00c865"/>
<rect x="466" y="468" width="1" height="17" fill="#225437"/>
<rect x="464" y="480" width="5" height="5" fill="#225437"/>
<rect x="465" y="481" width="3" height="3" fill="#00c865"/>
<rect x="472" y="481" width="1" height="34" fill="#225437"/>
<rect x="470" y="482" width="5" height="33" fill="#5b1a13"/>
<rect x="471" y="483" width="3" height="31" fill="#ff6a5e"/>
<rect x="478" y="492" width="1" height="27" fill="#225437"/>
<rect x="476" y="498" width="5" height="19" fill="#5b1a13"/>
<rect x="477" y="499" width="3" height="17" fill="#ff6a5e"/>
<rect x="484" y="474" width="1" height="35" fill="#225437"/>
<rect x="482" y="480" width="5" height="27" fill="#225437"/>
<rect x="483" y="481" width="3" height="25" fill="#00c865"/>
<rect x="490" y="462" width="1" height="26" fill="#225437"/>
<rect x="488" y="462" width="5" height="25" fill="#5b1a13"/>
<rect x="489" y="463" width="3" height="23" fill="#ff6a5e"/>
<rect x="496" y="471" width="1" height="31" fill="#225437"/>
<rect x="494" y="477" width="5" height="4" fill="#5b1a13"/>
<rect x="495" y="478" width="3" height="2" fill="#ff6a5e"/>
<rect x="502" y="468" width="1" height="29" fill="#225437"/>
<rect x="500" y="468" width="5" height="19" fill="#5b1a13"/>
<rect x="501" y="469" width="3" height="17" fill="#ff6a5e"/>
<rect x="508" y="483" width="1" height="31" fill="#225437"/>
<rect x="506" y="494" width="5" height="20" fill="#5b1a13"/>
<rect x="507" y="495" width="3" height="18" fill="#ff6a5e"/>
<rect x="514" y="526" width="1" height="45" fill="#225437"/>
<rect x="512" y="529" width="5" height="41" fill="#5b1a13"/>
<rect x="513" y="530" width="3" height="39" fill="#ff6a5e"/>
<rect x="520" y="582" width="1" height="31" fill="#225437"/>
<rect x="518" y="597" width="5" height="8" fill="#5b1a13"/>
<rect x="519" y="598" width="3" height="6" fill="#ff6a5e"/>
<rect x="526" y="587" width="1" height="49" fill="#225437"/>
<rect x="524" y="592" width="5" height="40" fill="#5b1a13"/>
<rect x="525" y="593" width="3" height="38" fill="#ff6a5e"/>
<rect x="532" y="603" width="1" height="33" fill="#225437"/>
<rect x="530" y="608" width="5" height="7" fill="#5b1a13"/>
<rect x="531" y="609" width="3" height="5" fill="#ff6a5e"/>
<rect x="538" y="615" width="1" height="66" fill="#225437"/>
<rect x="536" y="620" width="5" height="55" fill="#5b1a13"/>
<rect x="537" y="621" width="3" height="53" fill="#ff6a5e"/>
<rect x="544" y="651" width="1" height="30" fill="#225437"/>
<rect x="542" y="667" width="5" height="14" fill="#5b1a13"/>
<rect x="543" y="668" width="3" height="12" fill="#ff6a5e"/>
<rect x="550" y="663" width="1" height="21" fill="#225437"/>
<rect x="548" y="668" width="5" height="6" fill="#225437"/>
<rect x="549" y="669" width="3" height="4" fill="#00c865"/>
<rect x="556" y="638" width="1" height="25" fill="#225437"/>
<rect x="554" y="659" width="5" height="2" fill="#5b1a13"/>
<rect x="562" y="665" width="1" height="37" fill="#225437"/>
<rect x="560" y="668" width="5" height="16" fill="#225437"/>
<rect x="561" y="669" width="3" height="14" fill="#00c865"/>
<rect x="568" y="672" width="1" height="33" fill="#225437"/>
<rect x="566" y="679" width="5" height="23" fill="#5b1a13"/>
<rect x="567" y="680" width="3" height="21" fill="#ff6a5e"/>
<rect x="574" y="631" width="1" height="32" fill="#225437"/>
<rect x="572" y="637" width="5" height="26" fill="#225437"/>
<rect x="573" y="638" width="3" height="24" fill="#00c865"/>
<rect x="580" y="621" width="1" height="31" fill="#225437"/>
<rect x="578" y="634" width="5" height="18" fill="#5b1a13"/>
<rect x="579" y="635" width="3" height="16" fill="#ff6a5e"/>
<rect x="586" y="644" width="1" height="25" fill="#225437"/>
<rect x="584" y="655" width="5" height="11" fill="#225437"/>
<rect x="585" y="656" width="3" height="9" fill="#00c865"/>
<rect x="592" y="678" width="1" height="30" fill="#225437"/>
<rect x="590" y="679" width="5" height="14" fill="#5b1a13"/>
<rect x="591" y="680" width="3" height="12" fill="#ff6a5e"/>
<rect x="598" y="666" width="1" height="51" fill="#225437"/>
<rect x="596" y="689" width="5" height="17" fill="#225437"/>
<rect x="597" y="690" width="3" height="15" fill="#00c865"/>
<rect x="604" y="662" width="1" height="22" fill="#225437"/>
<rect x="602" y="670" width="5" height="7" fill="#225437"/>
<rect x="603" y="671" width="3" height="5" fill="#00c865"/>
<rect x="610" y="651" width="1" height="50" fill="#225437"/>
<rect x="608" y="658" width="5" height="43" fill="#5b1a13"/>
<rect x="609" y="659" width="3" height="41" fill="#ff6a5e"/>
<rect x="616" y="638" width="1" height="39" fill="#225437"/>
<rect x="614" y="644" width="5" height="31" fill="#225437"/>
<rect x="615" y="645" width="3" height="29" fill="#00c865"/>
<rect x="622" y="605" width="1" height="31" fill="#225437"/>
<rect x="620" y="606" width="5" height="21" fill="#225437"/>
<rect x="621" y="607" width="3" height="19" fill="#00c865"/>
<rect x="628" y="589" width="1" height="29" fill="#225437"/>
<rect x="626" y="589" width="5" height="17" fill="#225437"/>
<rect x="627" y="590" width="3" height="15" fill="#00c865"/>
<rect x="634" y="608" width="1" height="20" fill="#225437"/>
<rect x="632" y="620" width="5" height="6" fill="#5b1a13"/>
<rect x="633" y="621" width="3" height="4" fill="#ff6a5e"/>
<rect x="640" y="591" width="1" height="56" fill="#225437"/>
<rect x="638" y="591" width="5" height="48" fill="#225437"/>
<rect x="639" y="592" width="3" height="46" fill="#00c865"/>
<rect x="646" y="597" width="1" height="49" fill="#225437"/>
<rect x="644" y="602" width="5" height="30" fill="#5b1a13"/>
<rect x="645" y="603" width="3" height="28" fill="#ff6a5e"/>
<rect x="652" y="634" width="1" height="45" fill="#225437"/>
<rect x="650" y="640" width="5" height="21" fill="#5b1a13"/>
<rect x="651" y="641" width="3" height="19" fill="#ff6a5e"/>
<rect x="658" y="656" width="1" height="36" fill="#225437"/>
<rect x="656" y="657" width="5" height="4" fill="#5b1a13"/>
<rect x="657" y="658" width="3" height="2" fill="#ff6a5e"/>
<rect x="664" y="623" width="1" height="29" fill="#225437"/>
<rect x="662" y="631" width="5" height="12" fill="#225437"/>
<rect x="663" y="632" width="3" height="10" fill="#00c865"/>
<rect x="670" y="600" width="1" height="60" fill="#225437"/>
<rect x="668" y="600" width="5" height="44" fill="#225437"/>
<rect x="669" y="601" width="3" height="42" fill="#00c865"/>
<rect x="676" y="580" width="1" height="31" fill="#225437"/>
<rect x="674" y="592" width="5" height="9" fill="#5b1a13"/>
<rect x="675" y="593" width="3" height="7" fill="#ff6a5e"/>
<rect x="682" y="577" width="1" height="45" fill="#225437"/>
<rect x="680" y="585" width="5" height="24" fill="#225437"/>
<rect x="681" y="586" width="3" height="22" fill="#00c865"/>
<rect x="688" y="569" width="1" height="30" fill="#225437"/>
<rect x="686" y="580" width="5" height="7" fill="#225437"/>
<rect x="687" y="581" width="3" height="5" fill="#00c865"/>
<rect x="694" y="577" width="1" height="18" fill="#225437"/>
<rect x="692" y="588" width="5" height="2" fill="#225437"/>
<rect x="700" y="576" width="1" height="24" fill="#225437"/>
<rect x="698" y="589" width="5" height="10" fill="#5b1a13"/>
<rect x="699" y="590" width="3" height="8" fill="#ff6a5e"/>
<rect x="706" y="577" width="1" height="18" fill="#225437"/>
<rect x="704" y="587" width="5" height="2" fill="#5b1a13"/>
<rect x="712" y="562" width="1" height="20" fill="#225437"/>
<rect x="710" y="562" width="5" height="17" fill="#225437"/>
<rect x="711" y="563" width="3" height="15" fill="#00c865"/>
<rect x="718" y="521" width="1" height="34" fill="#225437"/>
<rect x="716" y="524" width="5" height="29" fill="#225437"/>
<rect x="717" y="525" width="3" height="27" fill="#00c865"/>
<rect x="724" y="516" width="1" height="43" fill="#225437"/>
<rect x="722" y="525" width="5" height="24" fill="#5b1a13"/>
<rect x="723" y="526" width="3" height="22" fill="#ff6a5e"/>
<rect x="730" y="554" width="1" height="18" fill="#225437"/>
<rect x="728" y="562" width="5" height="5" fill="#5b1a13"/>
<rect x="729" y="563" width="3" height="3" fill="#ff6a5e"/>
<rect x="736" y="547" width="1" height="25" fill="#225437"/>
<rect x="734" y="552" width="5" height="18" fill="#225437"/>
<rect x="735" y="553" width="3" height="16" fill="#00c865"/>
<rect x="742" y="530" width="1" height="19" fill="#225437"/>
<rect x="740" y="536" width="5" height="12" fill="#225437"/>
<rect x="741" y="537" width="3" height="10" fill="#00c865"/>
<rect x="748" y="527" width="1" height="34" fill="#225437"/>
<rect x="746" y="533" width="5" height="28" fill="#5b1a13"/>
<rect x="747" y="534" width="3" height="26" fill="#ff6a5e"/>
<rect x="754" y="530" width="1" height="25" fill="#225437"/>
<rect x="752" y="540" width="5" height="4" fill="#225437"/>
<rect x="753" y="541" width="3" height="2" fill="#00c865"/>
<rect x="760" y="540" width="1" height="38" fill="#225437"/>
<rect x="758" y="544" width="5" height="29" fill="#5b1a13"/>
<rect x="759" y="545" width="3" height="27" fill="#ff6a5e"/>
<rect x="766" y="532" width="1" height="53" fill="#225437"/>
<rect x="764" y="532" width="5" height="49" fill="#225437"/>
<rect x="765" y="533" width="3" height="47" fill="#00c865"/>
<rect x="772" y="519" width="1" height="23" fill="#225437"/>
<rect x="770" y="519" width="5" height="14" fill="#5b1a13"/>
<rect x="771" y="520" width="3" height="12" fill="#ff6a5e"/>
<rect x="778" y="515" width="1" height="15" fill="#225437"/>
<rect x="776" y="524" width="5" height="5" fill="#225437"/>
<rect x="777" y="525" width="3" height="3" fill="#00c865"/>
<rect x="784" y="510" width="1" height="17" fill="#225437"/>
<rect x="782" y="518" width="5" height="3" fill="#5b1a13"/>
<rect x="783" y="519" width="3" height="1" fill="#ff6a5e"/>
<rect x="790" y="496" width="1" height="23" fill="#225437"/>
<rect x="788" y="496" width="5" height="18" fill="#225437"/>
<rect x="789" y="497" width="3" height="16" fill="#00c865"/>
<rect x="796" y="490" width="1" height="36" fill="#225437"/>
<rect x="794" y="496" width="5" height="28" fill="#5b1a13"/>
<rect x="795" y="497" width="3" height="26" fill="#ff6a5e"/>
<rect x="802" y="497" width="1" height="26" fill="#225437"/>
<rect x="800" y="502" width="5" height="21" fill="#225437"/>
<rect x="801" y="503" width="3" height="19" fill="#00c865"/>
<rect x="808" y="502" width="1" height="17" fill="#225437"/>
<rect x="806" y="512" width="5" height="7" fill="#5b1a13"/>
<rect x="807" y="513" width="3" height="5" fill="#ff6a5e"/>
<rect x="814" y="521" width="1" height="42" fill="#225437"/>
<rect x="812" y="523" width="5" height="40" fill="#5b1a13"/>
<rect x="813" y="524" width="3" height="38" fill="#ff6a5e"/>
<rect x="820" y="553" width="1" height="26" fill="#225437"/>
<rect x="818" y="572" width="5" height="2" fill="#5b1a13"/>
<rect x="826" y="566" width="1" height="29" fill="#225437"/>
<rect x="824" y="576" width="5" height="7" fill="#225437"/>
<rect x="825" y="577" width="3" height="5" fill="#00c865"/>
<rect x="832" y="560" width="1" height="24" fill="#225437"/>
<rect x="830" y="563" width="5" height="10" fill="#5b1a13"/>
<rect x="831" y="564" width="3" height="8" fill="#ff6a5e"/>
<rect x="838" y="558" width="1" height="49" fill="#225437"/>
<rect x="836" y="560" width="5" height="45" fill="#5b1a13"/>
<rect x="837" y="561" width="3" height="43" fill="#ff6a5e"/>
<rect x="844" y="611" width="1" height="33" fill="#225437"/>
<rect x="842" y="621" width="5" height="8" fill="#225437"/>
<rect x="843" y="622" width="3" height="6" fill="#00c865"/>
<rect x="850" y="584" width="1" height="41" fill="#225437"/>
<rect x="848" y="616" width="5" height="4" fill="#5b1a13"/>
<rect x="849" y="617" width="3" height="2" fill="#ff6a5e"/>
<rect x="856" y="610" width="1" height="33" fill="#225437"/>
<rect x="854" y="610" width="5" height="33" fill="#5b1a13"/>
<rect x="855" y="611" width="3" height="31" fill="#ff6a5e"/>
<rect x="862" y="657" width="1" height="33" fill="#225437"/>
<rect x="860" y="659" width="5" height="31" fill="#5b1a13"/>
<rect x="861" y="660" width="3" height="29" fill="#ff6a5e"/>
<rect x="868" y="636" width="1" height="46" fill="#225437"/>
<rect x="866" y="637" width="5" height="34" fill="#225437"/>
<rect x="867" y="638" width="3" height="32" fill="#00c865"/>
<rect x="874" y="662" width="1" height="24" fill="#225437"/>
<rect x="872" y="665" width="5" height="14" fill="#225437"/>
<rect x="873" y="666" width="3" height="12" fill="#00c865"/>
<rect x="880" y="642" width="1" height="33" fill="#225437"/>
<rect x="878" y="660" width="5" height="7" fill="#225437"/>
<rect x="879" y="661" width="3" height="5" fill="#00c865"/>
<rect x="886" y="661" width="1" height="28" fill="#225437"/>
<rect x="884" y="666" width="5" height="13" fill="#225437"/>
<rect x="885" y="667" width="3" height="11" fill="#00c865"/>
<rect x="892" y="646" width="1" height="47" fill="#225437"/>
<rect x="890" y="657" width="5" height="2" fill="#225437"/>
<rect x="898" y="620" width="1" height="33" fill="#225437"/>
<rect x="896" y="628" width="5" height="25" fill="#225437"/>
<rect x="897" y="629" width="3" height="23" fill="#00c865"/>
<rect x="904" y="584" width="1" height="36" fill="#225437"/>
<rect x="902" y="585" width="5" height="35" fill="#225437"/>
<rect x="903" y="586" width="3" height="33" fill="#00c865"/>
<rect x="910" y="574" width="1" height="50" fill="#225437"/>
<rect x="908" y="576" width="5" height="48" fill="#5b1a13"/>
<rect x="909" y="577" width="3" height="46" fill="#ff6a5e"/>
<rect x="916" y="624" width="1" height="30" fill="#225437"/>
<rect x="914" y="635" width="5" height="12" fill="#5b1a13"/>
<rect x="915" y="636" width="3" height="10" fill="#ff6a5e"/>
<rect x="922" y="629" width="1" height="26" fill="#225437"/>
<rect x="920" y="647" width="5" height="6" fill="#5b1a13"/>
<rect x="921" y="648" width="3" height="4" fill="#ff6a5e"/>
<rect x="928" y="662" width="1" height="23" fill="#225437"/>
<rect x="926" y="669" width="5" height="16" fill="#5b1a13"/>
<rect x="927" y="670" width="3" height="14" fill="#ff6a5e"/>
<rect x="934" y="678" width="1" height="35" fill="#225437"/>
<rect x="932" y="686" width="5" height="2" fill="#5b1a13"/>
<rect x="940" y="663" width="1" height="47" fill="#225437"/>
<rect x="938" y="676" width="5" height="34" fill="#5b1a13"/>
<rect x="939" y="677" width="3" height="32" fill="#ff6a5e"/>
<rect x="946" y="682" width="1" height="43" fill="#225437"/>
<rect x="944" y="686" width="5" height="34" fill="#225437"/>
<rect x="945" y="687" width="3" height="32" fill="#00c865"/>
<rect x="952" y="697" width="1" height="35" fill="#225437"/>
<rect x="950" y="714" width="5" height="17" fill="#5b1a13"/>
<rect x="951" y="715" width="3" height="15" fill="#ff6a5e"/>
<rect x="958" y="726" width="1" height="44" fill="#225437"/>
<rect x="956" y="730" width="5" height="21" fill="#5b1a13"/>
<rect x="957" y="731" width="3" height="19" fill="#ff6a5e"/>
<rect x="964" y="732" width="1" height="32" fill="#225437"/>
<rect x="962" y="756" width="5" height="7" fill="#225437"/>
<rect x="963" y="757" width="3" height="5" fill="#00c865"/>
<rect x="970" y="725" width="1" height="28" fill="#225437"/>
<rect x="968" y="738" width="5" height="5" fill="#225437"/>
<rect x="969" y="739" width="3" height="3" fill="#00c865"/>
<rect x="976" y="725" width="1" height="54" fill="#225437"/>
<rect x="974" y="728" width="5" height="29" fill="#225437"/>
<rect x="975" y="729" width="3" height="27" fill="#00c865"/>
<rect x="982" y="739" width="1" height="50" fill="#225437"/>
<rect x="980" y="740" width="5" height="37" fill="#5b1a13"/>
<rect x="981" y="741" width="3" height="35" fill="#ff6a5e"/>
<rect x="988" y="734" width="1" height="39" fill="#225437"/>
<rect x="986" y="738" width="5" height="26" fill="#225437"/>
<rect x="987" y="739" width="3" height="24" fill="#00c865"/>
<rect x="994" y="728" width="1" height="60" fill="#225437"/>
<rect x="992" y="728" width="5" height="31" fill="#225437"/>
<rect x="993" y="729" width="3" height="29" fill="#00c865"/>
<rect x="1000" y="652" width="1" height="59" fill="#225437"/>
<rect x="998" y="653" width="5" height="54" fill="#225437"/>
<rect x="999" y="654" width="3" height="52" fill="#00c865"/>
<rect x="1006" y="656" width="1" height="35" fill="#225437"/>
<rect x="1004" y="662" width="5" height="21" fill="#5b1a13"/>
<rect x="1005" y="663" width="3" height="19" fill="#ff6a5e"/>
<rect x="1012" y="658" width="1" height="32" fill="#225437"/>
<rect x="1010" y="668" width="5" height="14" fill="#5b1a13"/>
<rect x="1011" y="669" width="3" height="12" fill="#ff6a5e"/>
<rect x="1018" y="682" width="1" height="47" fill="#225437"/>
<rect x="1016" y="693" width="5" height="34" fill="#5b1a13"/>
<rect x="1017" y="694" width="3" height="32" fill="#ff6a5e"/>
<rect x="1024" y="707" width="1" height="36" fill="#225437"/>
<rect x="1022" y="730" width="5" height="13" fill="#225437"/>
<rect x="1023" y="731" width="3" height="11" fill="#00c865"/>
<rect x="1030" y="722" width="1" height="28" fill="#225437"/>
<rect x="1028" y="733" width="5" height="11" fill="#225437"/>
<rect x="1029" y="734" width="3" height="9" fill="#00c865"/>
<rect x="1036" y="715" width="1" height="27" fill="#225437"/>
<rect x="1034" y="727" width="5" height="6" fill="#5b1a13"/>
<rect x="1035" y="728" width="3" height="4" fill="#ff6a5e"/>
<rect x="1042" y="701" width="1" height="68" fill="#225437"/>
<rect x="1040" y="709" width="5" height="34" fill="#225437"/>
<rect x="1041" y="710" width="3" height="32" fill="#00c865"/>
<rect x="1048" y="670" width="1" height="35" fill="#225437"/>
<rect x="1046" y="684" width="5" height="13" fill="#5b1a13"/>
<rect x="1047" y="685" width="3" height="11" fill="#ff6a5e"/>
<rect x="1054" y="646" width="1" height="64" fill="#225437"/>
<rect x="1052" y="655" width="5" height="44" fill="#225437"/>
<rect x="1053" y="656" width="3" height="42" fill="#00c865"/>
<rect x="1060" y="612" width="1" height="29" fill="#225437"/>
<rect x="1058" y="623" width="5" height="12" fill="#225437"/>
<rect x="1059" y="624" width="3" height="10" fill="#00c865"/>
<rect x="1066" y="597" width="1" height="40" fill="#225437"/>
<rect x="1064" y="608" width="5" height="29" fill="#5b1a13"/>
<rect x="1065" y="609" width="3" height="27" fill="#ff6a5e"/>
<rect x="1072" y="643" width="1" height="35" fill="#225437"/>
<rect x="1070" y="643" width="5" height="15" fill="#5b1a13"/>
<rect x="1071" y="644" width="3" height="13" fill="#ff6a5e"/>
<rect x="1078" y="653" width="1" height="31" fill="#225437"/>
<rect x="1076" y="662" width="5" height="17" fill="#225437"/>
<rect x="1077" y="663" width="3" height="15" fill="#00c865"/>
<rect x="1084" y="621" width="1" height="38" fill="#225437"/>
<rect x="1082" y="623" width="5" height="24" fill="#225437"/>
<rect x="1083" y="624" width="3" height="22" fill="#00c865"/>
<rect x="1090" y="595" width="1" height="46" fill="#225437"/>
<rect x="1088" y="595" width="5" height="21" fill="#225437"/>
<rect x="1089" y="596" width="3" height="19" fill="#00c865"/>
<rect x="1096" y="586" width="1" height="31" fill="#225437"/>
<rect x="1094" y="590" width="5" height="6" fill="#225437"/>
<rect x="1095" y="591" width="3" height="4" fill="#00c865"/>
<rect x="1102" y="585" width="1" height="19" fill="#225437"/>
<rect x="1100" y="592" width="5" height="7" fill="#225437"/>
<rect x="1101" y="593" width="3" height="5" fill="#00c865"/>
<rect x="1108" y="581" width="1" height="36" fill="#225437"/>
<rect x="1106" y="585" width="5" height="32" fill="#225437"/>
<rect x="1107" y="586" width="3" height="30" fill="#00c865"/>
<rect x="1114" y="581" width="1" height="20" fill="#225437"/>
<rect x="1112" y="581" width="5" height="11" fill="#5b1a13"/>
<rect x="1113" y="582" width="3" height="9" fill="#ff6a5e"/>
<rect x="1120" y="561" width="1" height="30" fill="#225437"/>
<rect x="1118" y="579" width="5" height="7" fill="#5b1a13"/>
<rect x="1119" y="580" width="3" height="5" fill="#ff6a5e"/>
<rect x="1126" y="567" width="1" height="20" fill="#225437"/>
<rect x="1124" y="578" width="5" height="2" fill="#225437"/>
<rect x="1132" y="594" width="1" height="23" fill="#225437"/>
<rect x="1130" y="594" width="5" height="7" fill="#5b1a13"/>
<rect x="1131" y="595" width="3" height="5" fill="#ff6a5e"/>
<rect x="1138" y="560" width="1" height="34" fill="#225437"/>
<rect x="1136" y="560" width="5" height="34" fill="#225437"/>
<rect x="1137" y="561" width="3" height="32" fill="#00c865"/>
<rect x="1144" y="543" width="1" height="29" fill="#225437"/>
<rect x="1142" y="549" width="5" height="22" fill="#225437"/>
<rect x="1143" y="550" width="3" height="20" fill="#00c865"/>
<rect x="1150" y="518" width="1" height="39" fill="#225437"/>
<rect x="1148" y="520" width="5" height="35" fill="#225437"/>
<rect x="1149" y="521" width="3" height="33" fill="#00c865"/>
<rect x="1156" y="521" width="1" height="19" fill="#225437"/>
<rect x="1154" y="523" width="5" height="4" fill="#225437"/>
<rect x="1155" y="524" width="3" height="2" fill="#00c865"/>
<rect x="1162" y="446" width="1" height="101" fill="#225437"/>
<rect x="1160" y="447" width="5" height="91" fill="#225437"/>
<rect x="1161" y="448" width="3" height="89" fill="#00c865"/>
<rect x="1168" y="431" width="1" height="34" fill="#225437"/>
<rect x="1166" y="434" width="5" height="11" fill="#5b1a13"/>
<rect x="1167" y="435" width="3" height="9" fill="#ff6a5e"/>
<rect x="1174" y="431" width="1" height="27" fill="#225437"/>
<rect x="1172" y="436" width="5" height="10" fill="#5b1a13"/>
<rect x="1173" y="437" width="3" height="8" fill="#ff6a5e"/>
<rect x="1180" y="439" width="1" height="28" fill="#225437"/>
<rect x="1178" y="440" width="5" height="16" fill="#5b1a13"/>
<rect x="1179" y="441" width="3" height="14" fill="#ff6a5e"/>
<rect x="1186" y="442" width="1" height="39" fill="#225437"/>
<rect x="1184" y="451" width="5" height="29" fill="#5b1a13"/>
<rect x="1185" y="452" width="3" height="27" fill="#ff6a5e"/>
<rect x="1192" y="459" width="1" height="42" fill="#225437"/>
<rect x="1190" y="477" width="5" height="12" fill="#5b1a13"/>
<rect x="1191" y="478" width="3" height="10" fill="#ff6a5e"/>
<rect x="1198" y="459" width="1" height="27" fill="#225437"/>
<rect x="1196" y="466" width="5" height="15" fill="#225437"/>
<rect x="1197" y="467" width="3" height="13" fill="#00c865"/>
<rect x="1204" y="460" width="1" height="23" fill="#225437"/>
<rect x="1202" y="472" width="5" height="2" fill="#225437"/>
<rect x="1210" y="450" width="1" height="33" fill="#225437"/>
<rect x="1208" y="458" width="5" height="16" fill="#225437"/>
<rect x="1209" y="459" width="3" height="14" fill="#00c865"/>
<rect x="1216" y="440" width="1" height="16" fill="#225437"/>
<rect x="1214" y="444" width="5" height="7" fill="#225437"/>
<rect x="1215" y="445" width="3" height="5" fill="#00c865"/>
<rect x="1222" y="434" width="1" height="20" fill="#225437"/>
<rect x="1220" y="444" width="5" height="3" fill="#5b1a13"/>
<rect x="1221" y="445" width="3" height="1" fill="#ff6a5e"/>
<rect x="1228" y="434" width="1" height="16" fill="#225437"/>
<rect x="1226" y="435" width="5" height="9" fill="#225437"/>
<rect x="1227" y="436" width="3" height="7" fill="#00c865"/>
<rect x="1234" y="442" width="1" height="20" fill="#225437"/>
<rect x="1232" y="446" width="5" height="12" fill="#5b1a13"/>
<rect x="1233" y="447" width="3" height="10" fill="#ff6a5e"/>
<rect x="1240" y="445" width="1" height="19" fill="#225437"/>
<rect x="1238" y="451" width="5" height="12" fill="#5b1a13"/>
<rect x="1239" y="452" width="3" height="10" fill="#ff6a5e"/>
<rect x="1246" y="432" width="1" height="24" fill="#225437"/>
<rect x="1244" y="448" width="5" height="4" fill="#5b1a13"/>
<rect x="1245" y="449" width="3" height="2" fill="#ff6a5e"/>
<rect x="1252" y="413" width="1" height="25" fill="#225437"/>
<rect x="1250" y="426" width="5" height="2" fill="#5b1a13"/>
<rect x="1258" y="414" width="1" height="28" fill="#225437"/>
<rect x="1256" y="422" width="5" height="9" fill="#225437"/>
<rect x="1257" y="423" width="3" height="7" fill="#00c865"/>
<rect x="1264" y="406" width="1" height="22" fill="#225437"/>
<rect x="1262" y="411" width="5" height="14" fill="#225437"/>
<rect x="1263" y="412" width="3" height="12" fill="#00c865"/>
<rect x="1270" y="406" width="1" height="41" fill="#225437"/>
<rect x="1268" y="417" width="5" height="25" fill="#5b1a13"/>
<rect x="1269" y="418" width="3" height="23" fill="#ff6a5e"/>
<rect x="1276" y="444" width="1" height="27" fill="#225437"/>
<rect x="1274" y="445" width="5" height="21" fill="#5b1a13"/>
<rect x="1275" y="446" width="3" height="19" fill="#ff6a5e"/>
<rect x="1282" y="453" width="1" height="15" fill="#225437"/>
<rect x="1280" y="460" width="5" height="3" fill="#5b1a13"/>
<rect x="1281" y="461" width="3" height="1" fill="#ff6a5e"/>
<rect x="1288" y="432" width="1" height="22" fill="#225437"/>
<rect x="1286" y="436" width="5" height="16" fill="#225437"/>
<rect x="1287" y="437" width="3" height="14" fill="#00c865"/>
<rect x="1294" y="441" width="1" height="17" fill="#225437"/>
<rect x="1292" y="444" width="5" height="5" fill="#225437"/>
<rect x="1293" y="445" width="3" height="3" fill="#00c865"/>
<rect x="1300" y="388" width="1" height="58" fill="#225437"/>
<rect x="1298" y="410" width="5" height="28" fill="#225437"/>
<rect x="1299" y="411" width="3" height="26" fill="#00c865"/>
<rect x="1306" y="401" width="1" height="41" fill="#225437"/>
<rect x="1304" y="412" width="5" height="4" fill="#225437"/>
<rect x="1305" y="413" width="3" height="2" fill="#00c865"/>
<rect x="1312" y="433" width="1" height="43" fill="#225437"/>
<rect x="1310" y="436" width="5" height="40" fill="#5b1a13"/>
<rect x="1311" y="437" width="3" height="38" fill="#ff6a5e"/>
<rect x="1318" y="469" width="1" height="43" fill="#225437"/>
<rect x="1316" y="477" width="5" height="34" fill="#5b1a13"/>
<rect x="1317" y="478" width="3" height="32" fill="#ff6a5e"/>
<rect x="1324" y="493" width="1" height="18" fill="#225437"/>
<rect x="1322" y="501" width="5" height="8" fill="#5b1a13"/>
<rect x="1323" y="502" width="3" height="6" fill="#ff6a5e"/>
<rect x="1330" y="512" width="1" height="21" fill="#225437"/>
<rect x="1328" y="520" width="5" height="8" fill="#225437"/>
<rect x="1329" y="521" width="3" height="6" fill="#00c865"/>
<rect x="1336" y="489" width="1" height="25" fill="#225437"/>
<rect x="1334" y="490" width="5" height="23" fill="#225437"/>
<rect x="1335" y="491" width="3" height="21" fill="#00c865"/>
<rect x="1342" y="479" width="1" height="37" fill="#225437"/>
<rect x="1340" y="490" width="5" height="25" fill="#5b1a13"/>
<rect x="1341" y="491" width="3" height="23" fill="#ff6a5e"/>
<rect x="1348" y="494" width="1" height="19" fill="#225437"/>
<rect x="1346" y="502" width="5" height="11" fill="#225437"/>
<rect x="1347" y="503" width="3" height="9" fill="#00c865"/>
<rect x="1354" y="474" width="1" height="19" fill="#225437"/>
<rect x="1352" y="486" width="5" height="2" fill="#5b1a13"/>
<rect x="1360" y="484" width="1" height="25" fill="#225437"/>
<rect x="1358" y="487" width="5" height="17" fill="#5b1a13"/>
<rect x="1359" y="488" width="3" height="15" fill="#ff6a5e"/>
<rect x="1366" y="479" width="1" height="34" fill="#225437"/>
<rect x="1364" y="479" width="5" height="27" fill="#225437"/>
<rect x="1365" y="480" width="3" height="25" fill="#00c865"/>
<rect x="1372" y="482" width="1" height="32" fill="#225437"/>
<rect x="1370" y="487" width="5" height="27" fill="#5b1a13"/>
<rect x="1371" y="488" width="3" height="25" fill="#ff6a5e"/>
<rect x="1378" y="479" width="1" height="22" fill="#225437"/>
<rect x="1376" y="479" width="5" height="20" fill="#225437"/>
<rect x="1377" y="480" width="3" height="18" fill="#00c865"/>
<rect x="1384" y="448" width="1" height="38" fill="#225437"/>
<rect x="1382" y="464" width="5" height="22" fill="#225437"/>
<rect x="1383" y="465" width="3" height="20" fill="#00c865"/>
<rect x="1390" y="431" width="1" height="28" fill="#225437"/>
<rect x="1388" y="433" width="5" height="25" fill="#225437"/>
<rect x="1389" y="434" width="3" height="23" fill="#00c865"/>
<rect x="1396" y="414" width="1" height="29" fill="#225437"/>
<rect x="1394" y="414" width="5" height="24" fill="#225437"/>
<rect x="1395" y="415" width="3" height="22" fill="#00c865"/>
<rect x="1402" y="356" width="1" height="33" fill="#225437"/>
<rect x="1400" y="356" width="5" height="33" fill="#225437"/>
<rect x="1401" y="357" width="3" height="31" fill="#00c865"/>
<rect x="1408" y="366" width="1" height="16" fill="#225437"/>
<rect x="1406" y="368" width="5" height="3" fill="#225437"/>
<rect x="1407" y="369" width="3" height="1" fill="#00c865"/>
<rect x="1414" y="330" width="1" height="37" fill="#225437"/>
<rect x="1412" y="340" width="5" height="27" fill="#225437"/>
<rect x="1413" y="341" width="3" height="25" fill="#00c865"/>
<rect x="1420" y="311" width="1" height="38" fill="#225437"/>
<rect x="1418" y="321" width="5" height="13" fill="#225437"/>
<rect x="1419" y="322" width="3" height="11" fill="#00c865"/>
<rect x="1426" y="321" width="1" height="23" fill="#225437"/>
<rect x="1424" y="325" width="5" height="6" fill="#5b1a13"/>
<rect x="1425" y="326" width="3" height="4" fill="#ff6a5e"/>
<rect x="1432" y="320" width="1" height="18" fill="#225437"/>
<rect x="1430" y="321" width="5" height="5" fill="#225437"/>
<rect x="1431" y="322" width="3" height="3" fill="#00c865"/>
<rect x="1438" y="321" width="1" height="17" fill="#225437"/>
<rect x="1436" y="326" width="5" height="9" fill="#5b1a13"/>
<rect x="1437" y="327" width="3" height="7" fill="#ff6a5e"/>
<rect x="1444" y="312" width="1" height="25" fill="#225437"/>
<rect x="1442" y="325" width="5" height="4" fill="#5b1a13"/>
<rect x="1443" y="326" width="3" height="2" fill="#ff6a5e"/>
<rect x="1450" y="337" width="1" height="39" fill="#225437"/>
<rect x="1448" y="345" width="5" height="31" fill="#5b1a13"/>
<rect x="1449" y="346" width="3" height="29" fill="#ff6a5e"/>
<rect x="1456" y="350" width="1" height="20" fill="#225437"/>
<rect x="1454" y="352" width="5" height="13" fill="#225437"/>
<rect x="1455" y="353" width="3" height="11" fill="#00c865"/>
<rect x="1462" y="327" width="1" height="17" fill="#225437"/>
<rect x="1460" y="330" width="5" height="10" fill="#225437"/>
<rect x="1461" y="331" width="3" height="8" fill="#00c865"/>
<line x1="8" y1="329.5" x2="1795" y2="329.5" stroke="#4169e1" stroke-width="1" stroke-dasharray="2,1"/>
<text x="1175.5" y="97.6" font-size="19.5" fill="#ff0000" textLength="144" lengthAdjust="spacingAndGlyphs">Gap stängning</text>
<text x="1175.5" y="131.3" font-size="19.5" fill="#9900ff" textLength="285" lengthAdjust="spacingAndGlyphs">Kan behöva en våg till upp ?</text>
<text x="1175.5" y="151.2" font-size="19.5" fill="#9900ff" textLength="97" lengthAdjust="spacingAndGlyphs">Innan ner</text>
<text x="1505.3" y="343.9" font-size="16" fill="#ff0000" textLength="31" lengthAdjust="spacingAndGlyphs">Gap</text>
<text x="1063" y="581.2" font-size="20" fill="#0000ff" >1</text>
<text x="1073.8" y="709.8" font-size="20" fill="#0000ff" >2</text>
<text x="1296.3" y="370.2" font-size="20" fill="#0000ff" >3</text>
<text x="1325.5" y="557" font-size="20" fill="#0000ff" >4</text>
<text x="1470" y="244.7" font-size="20" fill="#0000ff" >5</text>
<text x="1470" y="263.7" font-size="20" fill="#9900ff" >5</text>
<text x="1469.5" y="287" font-size="20" fill="#9900ff" >c</text>
<text x="1415.3" y="300.2" font-size="20" fill="#9900ff" >a</text>
<text x="1397.8" y="344.4" font-size="20" fill="#9900ff" >3</text>
<text x="1403.3" y="406.8" font-size="20" fill="#9900ff" >4</text>
<text x="1446" y="407.3" font-size="20" fill="#9900ff" >b</text>
<text x="1374" y="436.6" font-size="20" fill="#9900ff" >1</text>
<text x="1392" y="490.1" font-size="20" fill="#9900ff" >2</text>
<rect x="1795" y="58" width="1" height="811" fill="#555"/>
<rect x="1795" y="811" width="4" height="1" fill="#555"/>
<text x="1802" y="816.0" font-size="11" fill="#555">1760.00</text>
<rect x="1795" y="769" width="4" height="1" fill="#555"/>
<text x="1802" y="773.9" font-size="11" fill="#555">1800.00</text>
<rect x="1795" y="727" width="4" height="1" fill="#555"/>
<text x="1802" y="731.8" font-size="11" fill="#555">1840.00</text>
<rect x="1795" y="685" width="4" height="1" fill="#555"/>
<text x="1802" y="689.7" font-size="11" fill="#555">1880.00</text>
<rect x="1795" y="643" width="4" height="1" fill="#555"/>
<text x="1802" y="647.6" font-size="11" fill="#555">1920.00</text>
<rect x="1795" y="601" width="4" height="1" fill="#555"/>
<text x="1802" y="605.5" font-size="11" fill="#555">1960.00</text>
<rect x="1795" y="559" width="4" height="1" fill="#555"/>
<text x="1802" y="563.4" font-size="11" fill="#555">2000.00</text>
<rect x="1795" y="516" width="4" height="1" fill="#555"/>
<text x="1802" y="521.3" font-size="11" fill="#555">2040.00</text>
<rect x="1795" y="474" width="4" height="1" fill="#555"/>
<text x="1802" y="479.2" font-size="11" fill="#555">2080.00</text>
<rect x="1795" y="432" width="4" height="1" fill="#555"/>
<text x="1802" y="437.0" font-size="11" fill="#555">2120.00</text>
<rect x="1795" y="390" width="4" height="1" fill="#555"/>
<text x="1802" y="394.9" font-size="11" fill="#555">2160.00</text>
<rect x="1795" y="348" width="4" height="1" fill="#555"/>
<text x="1802" y="352.8" font-size="11" fill="#555">2200.00</text>
<rect x="1795" y="306" width="4" height="1" fill="#555"/>
<text x="1802" y="310.7" font-size="11" fill="#555">2240.00</text>
<rect x="1795" y="264" width="4" height="1" fill="#555"/>
<text x="1802" y="268.6" font-size="11" fill="#555">2280.00</text>
<rect x="1795" y="222" width="4" height="1" fill="#555"/>
<text x="1802" y="226.5" font-size="11" fill="#555">2320.00</text>
<rect x="1795" y="180" width="4" height="1" fill="#555"/>
<text x="1802" y="184.4" font-size="11" fill="#555">2360.00</text>
<rect x="1795" y="138" width="4" height="1" fill="#555"/>
<text x="1802" y="142.3" font-size="11" fill="#555">2400.00</text>
<rect x="1795" y="95" width="4" height="1" fill="#555"/>
<text x="1802" y="100.2" font-size="11" fill="#555">2440.00</text>
<rect x="1795" y="253" width="51" height="16" fill="#0000ff"/>
<rect x="1795" y="260" width="3" height="1" fill="#fff"/>
<text x="1802" y="265" font-size="11" font-weight="bold" fill="#fff">2283.74</text>
<rect x="1795" y="322" width="51" height="16" fill="#4169e1"/>
<rect x="1795" y="329" width="3" height="1" fill="#fff"/>
<text x="1802" y="334" font-size="11" font-weight="bold" fill="#fff">2217.71</text>
<rect x="1795" y="394" width="51" height="16" fill="#ff0000"/>
<rect x="1795" y="401" width="3" height="1" fill="#fff"/>
<text x="1802" y="406" font-size="11" font-weight="bold" fill="#fff">2149.27</text>
<rect x="1795" y="536" width="51" height="16" fill="#0000ff"/>
<rect x="1795" y="543" width="3" height="1" fill="#fff"/>
<text x="1802" y="548" font-size="11" font-weight="bold" fill="#fff">2014.81</text>
<rect x="8" y="837" width="1838" height="1" fill="#555"/>
<rect x="8" y="868" width="1788" height="1" fill="#555"/>
<rect x="17" y="851" width="1" height="1" fill="#ff3333"/>
<rect x="23" y="851" width="1" height="1" fill="#ff3333"/>
<rect x="29" y="851" width="1" height="1" fill="#ff3333"/>
<rect x="35" y="851" width="1" height="1" fill="#ff3333"/>
<rect x="41" y="851" width="1" height="1" fill="#ff3333"/>
<rect x="47" y="851" width="1" height="1" fill="#ff3333"/>
<rect x="53" y="851" width="1" height="1" fill="#ff3333"/>
<rect x="65" y="852" width="1" height="1" fill="#ff3333"/>
<rect x="71" y="852" width="1" height="1.4" fill="#ff3333"/>
<rect x="77" y="852" width="1" height="2.2" fill="#ff3333"/>
<rect x="83" y="852" width="1" height="2.7" fill="#ff3333"/>
<rect x="89" y="852" width="1" height="1.7" fill="#ff3333"/>
<rect x="95" y="852" width="1" height="1.0" fill="#ff3333"/>
<rect x="101" y="852" width="1" height="1" fill="#ff3333"/>
<rect x="107" y="852" width="1" height="1.6" fill="#ff3333"/>
<rect x="113" y="852" width="1" height="2.4" fill="#ff3333"/>
<rect x="119" y="852" width="1" height="3.0" fill="#ff3333"/>
<rect x="125" y="852" width="1" height="3.5" fill="#ff3333"/>
<rect x="131" y="852" width="1" height="3.6" fill="#ff3333"/>
<rect x="137" y="852" width="1" height="2.3" fill="#ff3333"/>
<rect x="143" y="852" width="1" height="1.0" fill="#ff3333"/>
<rect x="155" y="850.6" width="1" height="1.4" fill="#ff3333"/>
<rect x="161" y="849.2" width="1" height="2.8" fill="#ff3333"/>
<rect x="167" y="848.0" width="1" height="4.0" fill="#ff3333"/>
<rect x="173" y="846.6" width="1" height="5.4" fill="#ff3333"/>
<rect x="179" y="845.1" width="1" height="6.9" fill="#ff3333"/>
<rect x="185" y="844.9" width="1" height="7.1" fill="#ff3333"/>
<rect x="191" y="844.7" width="1" height="7.3" fill="#ff3333"/>
<rect x="197" y="845.4" width="1" height="6.6" fill="#ff3333"/>
<rect x="203" y="846.7" width="1" height="5.3" fill="#ff3333"/>
<rect x="209" y="848.1" width="1" height="3.9" fill="#ff3333"/>
<rect x="215" y="849.4" width="1" height="2.6" fill="#ff3333"/>
<rect x="221" y="850.6" width="1" height="1.4" fill="#ff3333"/>
<rect x="227" y="851" width="1" height="1" fill="#ff3333"/>
<rect x="281" y="852" width="1" height="1.0" fill="#ff3333"/>
<rect x="287" y="852" width="1" height="1.4" fill="#ff3333"/>
<rect x="293" y="852" width="1" height="1.2" fill="#ff3333"/>
<rect x="299" y="852" width="1" height="1.1" fill="#ff3333"/>
<rect x="311" y="850.9" width="1" height="1.1" fill="#ff3333"/>
<rect x="317" y="850.9" width="1" height="1.1" fill="#ff3333"/>
<rect x="323" y="851" width="1" height="1" fill="#ff3333"/>
<rect x="335" y="852" width="1" height="1" fill="#ff3333"/>
<rect x="341" y="852" width="1" height="1" fill="#ff3333"/>
<rect x="347" y="852" width="1" height="1" fill="#ff3333"/>
<rect x="353" y="852" width="1" height="1" fill="#ff3333"/>
<rect x="365" y="852" width="1" height="1" fill="#ff3333"/>
<rect x="371" y="852" width="1" height="1" fill="#ff3333"/>
<rect x="377" y="852" width="1" height="2.4" fill="#ff3333"/>
<rect x="383" y="852" width="1" height="3.6" fill="#ff3333"/>
<rect x="389" y="852" width="1" height="3.0" fill="#ff3333"/>
<rect x="395" y="852" width="1" height="2.3" fill="#ff3333"/>
<rect x="401" y="852" width="1" height="1.7" fill="#ff3333"/>
<rect x="407" y="852" width="1" height="1" fill="#ff3333"/>
<rect x="419" y="851" width="1" height="1" fill="#ff3333"/>
<rect x="425" y="851" width="1" height="1" fill="#ff3333"/>
<rect x="431" y="851" width="1" height="1" fill="#ff3333"/>
<rect x="437" y="851" width="1" height="1" fill="#ff3333"/>
<rect x="443" y="850.8" width="1" height="1.2" fill="#ff3333"/>
<rect x="449" y="850.6" width="1" height="1.4" fill="#ff3333"/>
<rect x="455" y="850.4" width="1" height="1.6" fill="#ff3333"/>
<rect x="461" y="850.2" width="1" height="1.8" fill="#ff3333"/>
<rect x="467" y="850.2" width="1" height="1.8" fill="#ff3333"/>
<rect x="473" y="850.1" width="1" height="1.9" fill="#ff3333"/>
<rect x="479" y="849.9" width="1" height="2.1" fill="#ff3333"/>
<rect x="485" y="849.8" width="1" height="2.2" fill="#ff3333"/>
<rect x="491" y="849.7" width="1" height="2.3" fill="#ff3333"/>
<rect x="497" y="849.9" width="1" height="2.1" fill="#ff3333"/>
<rect x="503" y="850.3" width="1" height="1.7" fill="#ff3333"/>
<rect x="509" y="851.0" width="1" height="1.0" fill="#ff3333"/>
<rect x="515" y="852" width="1" height="1" fill="#ff3333"/>
<rect x="521" y="852" width="1" height="1.8" fill="#ff3333"/>
<rect x="527" y="852" width="1" height="2.3" fill="#ff3333"/>
<rect x="533" y="852" width="1" height="2.8" fill="#ff3333"/>
<rect x="539" y="852" width="1" height="3.1" fill="#ff3333"/>
<rect x="545" y="852" width="1" height="4.1" fill="#ff3333"/>
<rect x="551" y="852" width="1" height="4.8" fill="#ff3333"/>
<rect x="557" y="852" width="1" height="4.1" fill="#ff3333"/>
<rect x="563" y="852" width="1" height="3.4" fill="#ff3333"/>
<rect x="569" y="852" width="1" height="2.7" fill="#ff3333"/>
<rect x="575" y="852" width="1" height="1.8" fill="#ff3333"/>
<rect x="581" y="852" width="1" height="1" fill="#ff3333"/>
<rect x="617" y="851" width="1" height="1" fill="#ff3333"/>
<rect x="623" y="850.1" width="1" height="1.9" fill="#ff3333"/>
<rect x="629" y="848.9" width="1" height="3.1" fill="#ff3333"/>
<rect x="635" y="848.7" width="1" height="3.3" fill="#ff3333"/>
<rect x="641" y="848.6" width="1" height="3.4" fill="#ff3333"/>
<rect x="647" y="849.2" width="1" height="2.8" fill="#ff3333"/>
<rect x="653" y="849.8" width="1" height="2.2" fill="#ff3333"/>
<rect x="659" y="850.4" width="1" height="1.6" fill="#ff3333"/>
<rect x="665" y="850.3" width="1" height="1.7" fill="#ff3333"/>
<rect x="671" y="850.2" width="1" height="1.8" fill="#ff3333"/>
<rect x="677" y="850.2" width="1" height="1.8" fill="#ff3333"/>
<rect x="683" y="850.1" width="1" height="1.9" fill="#ff3333"/>
<rect x="689" y="849.9" width="1" height="2.1" fill="#ff3333"/>
<rect x="695" y="850.3" width="1" height="1.7" fill="#ff3333"/>
<rect x="701" y="850.7" width="1" height="1.3" fill="#ff3333"/>
<rect x="707" y="850.4" width="1" height="1.6" fill="#ff3333"/>
<rect x="713" y="849.6" width="1" height="2.4" fill="#ff3333"/>
<rect x="719" y="849.4" width="1" height="2.6" fill="#ff3333"/>
<rect x="725" y="849.9" width="1" height="2.1" fill="#ff3333"/>
<rect x="731" y="850.4" width="1" height="1.6" fill="#ff3333"/>
<rect x="737" y="850.8" width="1" height="1.2" fill="#ff3333"/>
<rect x="743" y="850.3" width="1" height="1.7" fill="#ff3333"/>
<rect x="749" y="850.8" width="1" height="1.2" fill="#ff3333"/>
<rect x="755" y="851" width="1" height="1" fill="#ff3333"/>
<rect x="791" y="851" width="1" height="1" fill="#ff3333"/>
<rect x="797" y="851" width="1" height="1" fill="#ff3333"/>
<rect x="803" y="851" width="1" height="1" fill="#ff3333"/>
<rect x="815" y="852" width="1" height="1" fill="#ff3333"/>
<rect x="821" y="852" width="1" height="1.5" fill="#ff3333"/>
<rect x="827" y="852" width="1" height="2.4" fill="#ff3333"/>
<rect x="833" y="852" width="1" height="2.8" fill="#ff3333"/>
<rect x="839" y="852" width="1" height="2.6" fill="#ff3333"/>
<rect x="845" y="852" width="1" height="3.1" fill="#ff3333"/>
<rect x="851" y="852" width="1" height="3.8" fill="#ff3333"/>
<rect x="857" y="852" width="1" height="4.8" fill="#ff3333"/>
<rect x="863" y="852" width="1" height="4.8" fill="#ff3333"/>
<rect x="869" y="852" width="1" height="4.2" fill="#ff3333"/>
<rect x="875" y="852" width="1" height="3.9" fill="#ff3333"/>
<rect x="881" y="852" width="1" height="3.9" fill="#ff3333"/>
<rect x="887" y="852" width="1" height="3.9" fill="#ff3333"/>
<rect x="893" y="852" width="1" height="2.9" fill="#ff3333"/>
<rect x="899" y="852" width="1" height="1" fill="#ff3333"/>
<rect x="905" y="852" width="1" height="1" fill="#ff3333"/>
<rect x="911" y="852" width="1" height="1" fill="#ff3333"/>
<rect x="929" y="852" width="1" height="1" fill="#ff3333"/>
<rect x="959" y="852" width="1" height="1" fill="#ff3333"/>
<rect x="965" y="852" width="1" height="1.1" fill="#ff3333"/>
<rect x="971" y="852" width="1" height="1.2" fill="#ff3333"/>
<rect x="977" y="852" width="1" height="1" fill="#ff3333"/>
<rect x="995" y="851" width="1" height="1" fill="#ff3333"/>
<rect x="1001" y="850.6" width="1" height="1.4" fill="#ff3333"/>
<rect x="1007" y="850.4" width="1" height="1.6" fill="#ff3333"/>
<rect x="1013" y="850.1" width="1" height="1.9" fill="#ff3333"/>
<rect x="1019" y="849.7" width="1" height="2.3" fill="#ff3333"/>
<rect x="1025" y="850.7" width="1" height="1.3" fill="#ff3333"/>
<rect x="1031" y="851" width="1" height="1" fill="#ff3333"/>
<rect x="1037" y="851" width="1" height="1" fill="#ff3333"/>
<rect x="1043" y="851" width="1" height="1" fill="#ff3333"/>
<rect x="1049" y="851.0" width="1" height="1.0" fill="#ff3333"/>
<rect x="1055" y="850.4" width="1" height="1.6" fill="#ff3333"/>
<rect x="1061" y="849.7" width="1" height="2.3" fill="#ff3333"/>
<rect x="1067" y="848.8" width="1" height="3.2" fill="#ff3333"/>
<rect x="1073" y="848.6" width="1" height="3.4" fill="#ff3333"/>
<rect x="1079" y="849.0" width="1" height="3.0" fill="#ff3333"/>
<rect x="1085" y="849.0" width="1" height="3.0" fill="#ff3333"/>
<rect x="1091" y="848.9" width="1" height="3.1" fill="#ff3333"/>
<rect x="1097" y="849.1" width="1" height="2.9" fill="#ff3333"/>
<rect x="1103" y="849.4" width="1" height="2.6" fill="#ff3333"/>
<rect x="1109" y="849.7" width="1" height="2.3" fill="#ff3333"/>
<rect x="1115" y="850.1" width="1" height="1.9" fill="#ff3333"/>
<rect x="1121" y="850.6" width="1" height="1.4" fill="#ff3333"/>
<rect x="1127" y="851" width="1" height="1" fill="#ff3333"/>
<rect x="1133" y="851" width="1" height="1" fill="#ff3333"/>
<rect x="1145" y="851" width="1" height="1" fill="#ff3333"/>
<rect x="1151" y="850.6" width="1" height="1.4" fill="#ff3333"/>
<rect x="1157" y="850.1" width="1" height="1.9" fill="#ff3333"/>
<rect x="1163" y="849.6" width="1" height="2.4" fill="#ff3333"/>
<rect x="1169" y="849.1" width="1" height="2.9" fill="#ff3333"/>
<rect x="1175" y="849.0" width="1" height="3.0" fill="#ff3333"/>
<rect x="1181" y="849.5" width="1" height="2.5" fill="#ff3333"/>
<rect x="1187" y="850.1" width="1" height="1.9" fill="#ff3333"/>
<rect x="1193" y="851" width="1" height="1" fill="#ff3333"/>
<rect x="1235" y="852" width="1" height="1" fill="#ff3333"/>
<rect x="1241" y="852" width="1" height="1" fill="#ff3333"/>
<rect x="1247" y="852" width="1" height="1" fill="#ff3333"/>
<rect x="1253" y="852" width="1" height="1" fill="#ff3333"/>
<rect x="1259" y="852" width="1" height="1" fill="#ff3333"/>
<rect x="1265" y="852" width="1" height="1" fill="#ff3333"/>
<rect x="1271" y="852" width="1" height="1" fill="#ff3333"/>
<rect x="1277" y="852" width="1" height="1.3" fill="#ff3333"/>
<rect x="1283" y="852" width="1" height="1.9" fill="#ff3333"/>
<rect x="1289" y="852" width="1" height="2.0" fill="#ff3333"/>
<rect x="1295" y="852" width="1" height="1.4" fill="#ff3333"/>
<rect x="1301" y="852" width="1" height="1" fill="#ff3333"/>
<rect x="1307" y="852" width="1" height="1" fill="#ff3333"/>
<rect x="1313" y="852" width="1" height="1.2" fill="#ff3333"/>
<rect x="1319" y="852" width="1" height="2.0" fill="#ff3333"/>
<rect x="1325" y="852" width="1" height="2.7" fill="#ff3333"/>
<rect x="1331" y="852" width="1" height="3.4" fill="#ff3333"/>
<rect x="1337" y="852" width="1" height="3.8" fill="#ff3333"/>
<rect x="1343" y="852" width="1" height="4.1" fill="#ff3333"/>
<rect x="1349" y="852" width="1" height="3.3" fill="#ff3333"/>
<rect x="1355" y="852" width="1" height="2.5" fill="#ff3333"/>
<rect x="1361" y="852" width="1" height="1.7" fill="#ff3333"/>
<rect x="1367" y="852" width="1" height="1.1" fill="#ff3333"/>
<rect x="1373" y="852" width="1" height="1" fill="#ff3333"/>
<rect x="1385" y="851" width="1" height="1" fill="#ff3333"/>
<rect x="1391" y="849.9" width="1" height="2.1" fill="#ff3333"/>
<rect x="1397" y="848.8" width="1" height="3.2" fill="#ff3333"/>
<rect x="1403" y="848.2" width="1" height="3.8" fill="#ff3333"/>
<rect x="1409" y="847.8" width="1" height="4.2" fill="#ff3333"/>
<rect x="1415" y="847.6" width="1" height="4.4" fill="#ff3333"/>
<rect x="1421" y="847.5" width="1" height="4.5" fill="#ff3333"/>
<rect x="1427" y="847.5" width="1" height="4.5" fill="#ff3333"/>
<rect x="1433" y="847.8" width="1" height="4.2" fill="#ff3333"/>
<rect x="1439" y="848.2" width="1" height="3.8" fill="#ff3333"/>
<rect x="1445" y="849.5" width="1" height="2.5" fill="#ff3333"/>
<rect x="1451" y="850.5" width="1" height="1.5" fill="#ff3333"/>
<rect x="1457" y="851" width="1" height="1" fill="#ff3333"/>
<polyline points="10.0,855.6 30.0,855.0 49.9,855.6 69.9,856.0 89.9,859.0 109.8,861.0 129.8,863.0 149.8,863.6 159.7,863.0 179.7,860.4 199.7,857.0 219.7,853.6 229.6,852.4 279.5,852.4 299.5,852.8 319.5,853.6 339.5,854.4 359.4,855.2 380.0,856.0 399.9,857.6 419.9,857.0 439.9,856.4 459.8,855.0 479.8,853.0 499.8,851.0 515.7,850.4 529.7,851.6 549.7,853.6 569.7,856.4 589.6,858.0 609.6,858.0 629.6,857.0 649.5,855.6 669.5,854.0 689.5,852.0 709.5,851.0 720.0,850.4 740.0,849.0 759.9,848.0 779.9,847.4 829.8,847.4 839.8,848.4 859.8,850.0 879.7,852.4 899.7,854.4 919.7,855.0 939.6,855.6 959.6,856.4 979.6,857.6 999.6,857.4 1019.5,856.4 1039.5,855.6 1059.5,854.0 1079.4,852.3 1101.0,849.5 1122.1,847.4 1143.1,846.4 1164.2,844.7 1185.2,843.2 1197.9,842.2 1227.3,842.2 1248.4,843.2 1280.0,843.9 1311.5,846.0 1332.6,847.4 1353.6,849.5 1372.6,851.6 1395.7,851.6 1416.7,849.5 1437.8,846.8 1462.5,844.3" fill="none" stroke="#ff0000" stroke-opacity="0.6" stroke-width="1"/>
<polyline points="10.0,855.6 20.0,854.4 40.0,855.0 60.0,855.6 70.0,857.0 81.9,860.0 99.8,860.4 111.8,863.0 129.8,866.0 139.8,864.6 151.8,863.0 163.7,860.0 179.7,855.0 193.7,852.4 219.7,852.4 275.6,852.4 283.6,853.6 299.5,853.6 311.5,852.4 319.5,852.8 331.5,854.4 339.5,855.2 359.4,855.4 370.0,856.0 382.0,859.0 399.9,859.0 411.9,857.4 419.9,856.6 439.9,855.6 459.8,853.6 471.8,852.4 487.8,850.4 499.8,849.4 511.8,850.0 519.7,852.0 529.7,853.6 539.7,855.0 549.7,857.4 569.7,858.4 579.6,858.0 609.6,858.0 619.6,857.0 625.5,855.0 639.5,853.6 659.5,853.6 679.5,851.6 689.5,850.4 703.4,850.4 715.4,848.6 720.0,848.4 736.0,848.4 744.0,847.4 759.9,848.0 769.9,847.4 799.9,847.0 809.9,847.4 819.8,848.4 829.8,849.6 839.8,850.4 849.8,852.0 859.8,854.0 871.8,854.4 879.7,855.4 889.7,856.4 899.7,855.0 919.7,855.0 929.7,855.6 949.6,856.0 959.6,857.0 969.6,858.0 979.6,858.0 989.6,857.4 999.6,856.4 1009.6,855.6 1019.5,854.6 1029.5,855.6 1039.5,855.0 1049.5,854.0 1059.5,852.4 1069.5,850.4 1080.0,850.0 1090.5,848.5 1101.0,847.4 1111.6,846.8 1122.1,846.4 1138.9,846.4 1153.7,844.3 1172.6,841.6 1187.3,841.6 1197.9,842.2 1227.3,842.2 1244.2,843.9 1269.4,843.9 1286.3,846.0 1303.1,846.0 1311.5,846.8 1332.6,850.2 1343.1,851.6 1364.2,851.6 1372.6,852.3 1385.2,851.0 1406.2,847.4 1427.3,844.7 1437.8,843.7 1448.3,844.3 1462.5,844.3" fill="none" stroke="#0000ff" stroke-opacity="0.6" stroke-width="1"/>
<text x="17.6" y="858.3" font-size="13.8" fill="#000" textLength="141.5" lengthAdjust="spacingAndGlyphs">MACD (12, 26, close, 9)</text>
<rect x="1795" y="837" width="51" height="7" fill="#ff0000"/>
<rect x="1795" y="837" width="51" height="1" fill="#555"/>
<clipPath id="cp1"><rect x="1795" y="838" width="51" height="6"/></clipPath>
<text x="1802" y="840" font-size="11" font-weight="bold" fill="#fff" clip-path="url(#cp1)">00.0000</text>
<rect x="1795" y="844" width="45" height="16" fill="#ff0000"/>
<rect x="1795" y="851" width="3" height="1" fill="#fff"/>
<text x="1802" y="856" font-size="11" font-weight="bold" fill="#fff">0.0870</text>
<rect x="101" y="869" width="1" height="3" fill="#555"/>
<text x="101.5" y="883.3" font-size="11.6" fill="#5c5c5c" text-anchor="middle">Mar</text>
<rect x="239" y="869" width="1" height="3" fill="#555"/>
<text x="239.5" y="883.3" font-size="11.6" fill="#5c5c5c" text-anchor="middle">Apr</text>
<rect x="353" y="869" width="1" height="3" fill="#555"/>
<text x="353.5" y="883.3" font-size="11.6" fill="#5c5c5c" text-anchor="middle">May</text>
<rect x="479" y="869" width="1" height="3" fill="#555"/>
<text x="479.5" y="883.3" font-size="11.6" fill="#5c5c5c" text-anchor="middle">Jun</text>
<rect x="599" y="869" width="1" height="3" fill="#555"/>
<text x="599.5" y="883.3" font-size="11.6" fill="#5c5c5c" text-anchor="middle">Jul</text>
<rect x="725" y="869" width="1" height="3" fill="#555"/>
<text x="725.5" y="883.3" font-size="11.6" fill="#5c5c5c" text-anchor="middle">Aug</text>
<rect x="863" y="869" width="1" height="3" fill="#555"/>
<text x="863.5" y="883.3" font-size="11.6" fill="#5c5c5c" text-anchor="middle">Sep</text>
<rect x="995" y="869" width="1" height="3" fill="#555"/>
<text x="995.5" y="883.3" font-size="11.6" fill="#5c5c5c" text-anchor="middle">Oct</text>
<rect x="1121" y="869" width="1" height="3" fill="#555"/>
<text x="1121.5" y="883.3" font-size="11.6" fill="#5c5c5c" text-anchor="middle">Nov</text>
<rect x="1253" y="869" width="1" height="3" fill="#555"/>
<text x="1253.5" y="883.3" font-size="11.6" fill="#5c5c5c" text-anchor="middle">Dec</text>
<rect x="1379" y="869" width="1" height="3" fill="#555"/>
<text x="1379.5" y="883.3" font-size="11.1" font-weight="bold" fill="#555" text-anchor="middle">2023</text>
<rect x="1505" y="869" width="1" height="3" fill="#555"/>
<text x="1505.5" y="883.3" font-size="11.6" fill="#5c5c5c" text-anchor="middle">Feb</text>
<rect x="1625" y="869" width="1" height="3" fill="#555"/>
<text x="1625.5" y="883.3" font-size="11.6" fill="#5c5c5c" text-anchor="middle">Mar</text>
<rect x="1763" y="869" width="1" height="3" fill="#555"/>
<text x="1763.5" y="883.3" font-size="11.6" fill="#5c5c5c" text-anchor="middle">Apr</text>
<text x="20.5" y="820.2" font-size="20.5" font-weight="bold" fill="#111" stroke="#111" stroke-width="0.5" textLength="90.5" lengthAdjust="spacingAndGlyphs">Investing</text>
<text x="110.5" y="820.8" font-size="16" fill="#777" textLength="29.5" lengthAdjust="spacingAndGlyphs">.com</text>
<circle cx="83.3" cy="805.8" r="1.8" fill="#f7a21b"/>
</svg></body></html>
